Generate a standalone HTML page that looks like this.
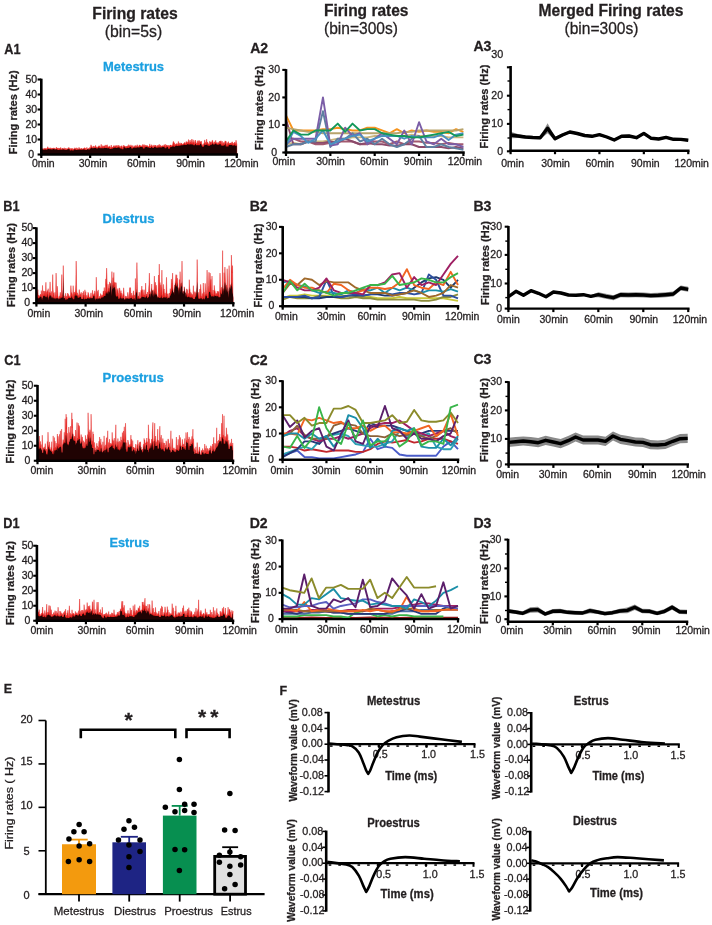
<!DOCTYPE html>
<html><head><meta charset="utf-8"><style>
html,body{margin:0;padding:0;background:#fff;overflow:hidden;}
svg{display:block;will-change:transform;font-family:"Liberation Sans",sans-serif;}
text{stroke-width:0.28px;}
</style></head><body>
<svg width="712" height="925" viewBox="0 0 712 925" fill="#231f20">
<text x="92.30" y="18.60" font-size="16.30" font-weight="bold" textLength="85.50" lengthAdjust="spacingAndGlyphs" stroke="#231f20">Firing rates</text>
<text x="104.70" y="36.60" font-size="16.30" textLength="57.50" lengthAdjust="spacingAndGlyphs" stroke="#231f20">(bin=5s)</text>
<text x="324.00" y="15.60" font-size="16.30" font-weight="bold" textLength="84.50" lengthAdjust="spacingAndGlyphs" stroke="#231f20">Firing rates</text>
<text x="324.00" y="33.60" font-size="16.30" textLength="74.00" lengthAdjust="spacingAndGlyphs" stroke="#231f20">(bin=300s)</text>
<text x="538.50" y="15.60" font-size="16.30" font-weight="bold" textLength="145.00" lengthAdjust="spacingAndGlyphs" stroke="#231f20">Merged Firing rates</text>
<text x="564.50" y="33.60" font-size="16.30" textLength="74.00" lengthAdjust="spacingAndGlyphs" stroke="#231f20">(bin=300s)</text>
<text x="4.20" y="54.00" font-size="14.50" font-weight="bold" textLength="16.30" lengthAdjust="spacingAndGlyphs" stroke="#231f20">A1</text>
<text x="3.20" y="210.50" font-size="14.50" font-weight="bold" textLength="16.30" lengthAdjust="spacingAndGlyphs" stroke="#231f20">B1</text>
<text x="4.20" y="364.50" font-size="14.50" font-weight="bold" textLength="16.30" lengthAdjust="spacingAndGlyphs" stroke="#231f20">C1</text>
<text x="3.20" y="528.00" font-size="14.50" font-weight="bold" textLength="16.30" lengthAdjust="spacingAndGlyphs" stroke="#231f20">D1</text>
<text x="250.20" y="53.00" font-size="14.50" font-weight="bold" textLength="18.00" lengthAdjust="spacingAndGlyphs" stroke="#231f20">A2</text>
<text x="249.70" y="210.50" font-size="14.50" font-weight="bold" textLength="18.00" lengthAdjust="spacingAndGlyphs" stroke="#231f20">B2</text>
<text x="249.70" y="364.50" font-size="14.50" font-weight="bold" textLength="18.00" lengthAdjust="spacingAndGlyphs" stroke="#231f20">C2</text>
<text x="249.70" y="527.50" font-size="14.50" font-weight="bold" textLength="18.00" lengthAdjust="spacingAndGlyphs" stroke="#231f20">D2</text>
<text x="473.45" y="51.25" font-size="14.50" font-weight="bold" textLength="18.00" lengthAdjust="spacingAndGlyphs" stroke="#231f20">A3</text>
<text x="473.45" y="210.50" font-size="14.50" font-weight="bold" textLength="18.00" lengthAdjust="spacingAndGlyphs" stroke="#231f20">B3</text>
<text x="473.45" y="363.75" font-size="14.50" font-weight="bold" textLength="18.00" lengthAdjust="spacingAndGlyphs" stroke="#231f20">C3</text>
<text x="473.45" y="528.00" font-size="14.50" font-weight="bold" textLength="18.00" lengthAdjust="spacingAndGlyphs" stroke="#231f20">D3</text>
<polygon points="41.3,154.5 41.3,147.6 41.7,147.5 42.1,148.5 42.4,149.0 42.8,149.2 43.2,148.5 43.6,149.1 43.9,149.4 44.3,148.4 44.7,148.4 45.1,148.1 45.4,149.1 45.8,148.5 46.2,148.6 46.6,149.4 46.9,148.2 47.3,148.3 47.7,146.7 48.1,148.4 48.5,148.6 48.8,147.7 49.2,148.4 49.6,147.9 50.0,148.8 50.3,148.4 50.7,147.8 51.1,148.1 51.5,148.4 51.8,149.2 52.2,148.2 52.6,148.5 53.0,148.0 53.4,148.4 53.7,147.8 54.1,148.6 54.5,148.4 54.9,148.1 55.2,149.2 55.6,148.8 56.0,148.9 56.4,147.1 56.7,148.6 57.1,148.1 57.5,148.1 57.9,148.7 58.2,149.5 58.6,147.9 59.0,148.8 59.4,148.1 59.8,149.4 60.1,148.8 60.5,147.7 60.9,147.5 61.3,149.4 61.6,149.4 62.0,148.6 62.4,148.1 62.8,148.5 63.1,148.4 63.5,149.2 63.9,148.2 64.3,147.8 64.6,148.9 65.0,149.4 65.4,149.0 65.8,148.1 66.2,149.6 66.5,148.6 66.9,149.2 67.3,148.7 67.7,148.7 68.0,148.6 68.4,147.5 68.8,148.3 69.2,147.7 69.5,148.7 69.9,148.9 70.3,148.3 70.7,150.2 71.1,148.6 71.4,148.5 71.8,149.3 72.2,148.3 72.6,148.9 72.9,150.0 73.3,148.7 73.7,149.2 74.1,148.9 74.4,148.7 74.8,147.7 75.2,148.5 75.6,148.6 75.9,148.4 76.3,149.7 76.7,147.7 77.1,149.3 77.5,148.3 77.8,149.3 78.2,149.2 78.6,148.9 79.0,147.3 79.3,148.1 79.7,149.0 80.1,148.8 80.5,149.3 80.8,148.6 81.2,149.0 81.6,148.1 82.0,149.4 82.3,148.8 82.7,149.1 83.1,149.1 83.5,148.2 83.9,148.6 84.2,148.2 84.6,147.8 85.0,147.8 85.4,149.5 85.7,148.3 86.1,149.7 86.5,148.7 86.9,147.3 87.2,148.8 87.6,148.9 88.0,148.5 88.4,148.6 88.8,148.6 89.1,149.1 89.5,147.7 89.9,147.5 90.3,147.9 90.6,147.1 91.0,144.8 91.4,146.1 91.8,146.7 92.1,146.4 92.5,147.2 92.9,147.8 93.3,147.4 93.6,146.1 94.0,146.1 94.4,146.8 94.8,147.4 95.2,146.7 95.5,145.4 95.9,145.7 96.3,147.5 96.7,147.0 97.0,148.0 97.4,147.8 97.8,146.8 98.2,146.9 98.5,146.1 98.9,145.8 99.3,146.2 99.7,145.7 100.0,147.3 100.4,147.8 100.8,146.4 101.2,144.3 101.6,146.6 101.9,147.8 102.3,146.7 102.7,145.6 103.1,147.7 103.4,146.1 103.8,147.3 104.2,145.7 104.6,146.1 104.9,146.6 105.3,144.9 105.7,147.2 106.1,147.4 106.4,145.1 106.8,147.5 107.2,144.7 107.6,146.8 108.0,147.6 108.3,146.8 108.7,146.7 109.1,146.6 109.5,146.9 109.8,145.8 110.2,148.5 110.6,147.2 111.0,147.0 111.3,145.0 111.7,148.3 112.1,147.0 112.5,147.6 112.9,147.3 113.2,146.2 113.6,146.4 114.0,145.4 114.4,147.2 114.7,146.5 115.1,145.6 115.5,145.9 115.9,147.0 116.2,145.7 116.6,147.4 117.0,145.0 117.4,146.5 117.7,146.8 118.1,146.4 118.5,145.9 118.9,145.0 119.3,146.8 119.6,147.0 120.0,146.1 120.4,147.4 120.8,148.0 121.1,145.9 121.5,146.9 121.9,145.6 122.3,147.5 122.6,148.8 123.0,146.4 123.4,146.5 123.8,145.1 124.1,146.1 124.5,146.3 124.9,146.0 125.3,146.9 125.7,146.5 126.0,147.7 126.4,146.1 126.8,147.2 127.2,146.9 127.5,145.9 127.9,145.7 128.3,147.4 128.7,144.6 129.0,147.0 129.4,145.8 129.8,145.6 130.2,146.3 130.6,146.4 130.9,144.8 131.3,145.7 131.7,146.1 132.1,147.9 132.4,147.1 132.8,145.4 133.2,146.3 133.6,147.3 133.9,147.0 134.3,146.7 134.7,145.8 135.1,146.1 135.4,145.5 135.8,147.1 136.2,145.5 136.6,146.9 137.0,146.7 137.3,144.7 137.7,146.4 138.1,146.5 138.5,146.6 138.8,146.7 139.2,144.9 139.6,145.1 140.0,145.7 140.3,146.2 140.7,145.4 141.1,146.4 141.5,145.9 141.8,146.0 142.2,146.3 142.6,144.7 143.0,144.6 143.4,145.0 143.7,147.9 144.1,144.5 144.5,145.6 144.9,146.7 145.2,146.3 145.6,145.2 146.0,145.1 146.4,145.5 146.7,146.1 147.1,146.2 147.5,145.5 147.9,146.3 148.3,147.0 148.6,146.8 149.0,146.3 149.4,145.9 149.8,143.9 150.1,147.4 150.5,145.7 150.9,146.3 151.3,145.9 151.6,144.8 152.0,144.9 152.4,146.3 152.8,146.6 153.1,147.3 153.5,146.2 153.9,144.9 154.3,146.4 154.7,145.4 155.0,145.4 155.4,145.7 155.8,145.0 156.2,146.2 156.5,146.8 156.9,147.1 157.3,145.2 157.7,146.4 158.0,146.3 158.4,145.2 158.8,146.7 159.2,144.2 159.5,145.4 159.9,146.5 160.3,146.6 160.7,144.9 161.1,147.0 161.4,146.6 161.8,146.0 162.2,145.8 162.6,146.0 162.9,145.6 163.3,146.3 163.7,146.1 164.1,144.7 164.4,145.3 164.8,146.3 165.2,144.1 165.6,147.6 166.0,145.8 166.3,145.2 166.7,144.9 167.1,145.8 167.5,146.2 167.8,145.3 168.2,146.0 168.6,145.4 169.0,148.2 169.3,145.5 169.7,146.6 170.1,144.9 170.5,145.1 170.8,145.1 171.2,146.2 171.6,145.4 172.0,145.7 172.4,144.7 172.7,144.7 173.1,141.8 173.5,141.4 173.9,143.1 174.2,146.1 174.6,142.8 175.0,145.4 175.4,144.2 175.7,144.5 176.1,144.5 176.5,143.5 176.9,144.2 177.2,145.4 177.6,143.8 178.0,143.3 178.4,141.4 178.8,144.2 179.1,145.0 179.5,144.1 179.9,142.8 180.3,144.6 180.6,144.4 181.0,142.9 181.4,143.6 181.8,143.3 182.1,144.3 182.5,144.5 182.9,143.9 183.3,143.7 183.7,143.9 184.0,142.9 184.4,142.7 184.8,142.6 185.2,142.5 185.5,144.0 185.9,144.1 186.3,141.4 186.7,142.3 187.0,141.9 187.4,143.4 187.8,141.9 188.2,142.5 188.5,139.5 188.9,142.5 189.3,143.6 189.7,141.6 190.1,140.0 190.4,142.7 190.8,141.7 191.2,143.3 191.6,140.9 191.9,139.0 192.3,143.5 192.7,142.2 193.1,139.8 193.4,141.5 193.8,141.9 194.2,144.5 194.6,142.3 194.9,140.8 195.3,140.0 195.7,141.2 196.1,142.9 196.5,143.1 196.8,144.4 197.2,143.6 197.6,140.7 198.0,142.4 198.3,144.0 198.7,140.5 199.1,144.4 199.5,140.6 199.8,142.8 200.2,142.0 200.6,141.5 201.0,142.2 201.4,141.2 201.7,143.4 202.1,144.2 202.5,144.9 202.9,146.1 203.2,145.8 203.6,143.8 204.0,143.6 204.4,142.4 204.7,139.9 205.1,142.3 205.5,142.2 205.9,144.1 206.2,142.8 206.6,139.2 207.0,141.8 207.4,142.7 207.8,142.1 208.1,144.8 208.5,143.6 208.9,144.2 209.3,145.1 209.6,141.5 210.0,141.2 210.4,142.8 210.8,142.1 211.1,143.9 211.5,142.0 211.9,141.6 212.3,140.2 212.6,140.4 213.0,142.0 213.4,142.8 213.8,143.7 214.2,143.4 214.5,141.8 214.9,141.9 215.3,142.7 215.7,140.3 216.0,141.8 216.4,142.7 216.8,143.0 217.2,142.6 217.5,143.9 217.9,143.9 218.3,142.3 218.7,143.5 219.1,143.1 219.4,141.1 219.8,143.0 220.2,141.0 220.6,142.8 220.9,140.7 221.3,142.2 221.7,144.9 222.1,141.1 222.4,143.1 222.8,145.1 223.2,142.7 223.6,142.6 223.9,144.4 224.3,143.6 224.7,142.1 225.1,140.9 225.5,141.3 225.8,141.2 226.2,141.4 226.6,145.7 227.0,143.8 227.3,142.7 227.7,145.9 228.1,141.9 228.5,141.7 228.8,143.9 229.2,143.4 229.6,144.1 230.0,143.0 230.3,143.0 230.7,143.0 231.1,144.2 231.5,142.5 231.9,143.4 232.2,141.7 232.6,142.6 233.0,144.8 233.4,144.7 233.7,143.0 234.1,143.6 234.5,142.4 234.9,142.0 235.2,143.0 235.6,145.0 236.0,140.2 236.4,142.4 236.8,144.3 236.8,154.5" fill="#e4201c" stroke="#e4201c" stroke-width="0.45" stroke-linejoin="bevel"/>
<polygon points="41.3,154.5 41.3,148.9 41.7,149.4 42.1,149.6 42.4,149.6 42.8,149.6 43.2,149.8 43.6,149.8 43.9,149.8 44.3,149.8 44.7,149.8 45.1,149.5 45.4,149.5 45.8,149.8 46.2,149.8 46.6,149.8 46.9,149.8 47.3,149.8 47.7,149.1 48.1,149.1 48.5,149.1 48.8,149.1 49.2,149.2 49.6,149.2 50.0,149.2 50.3,149.2 50.7,149.2 51.1,149.6 51.5,149.6 51.8,149.6 52.2,149.6 52.6,149.6 53.0,149.0 53.4,149.0 53.7,149.0 54.1,149.0 54.5,149.6 54.9,149.6 55.2,149.6 55.6,149.6 56.0,149.6 56.4,149.3 56.7,149.3 57.1,149.2 57.5,149.9 57.9,149.9 58.2,149.9 58.6,149.9 59.0,149.9 59.4,149.8 59.8,149.8 60.1,149.8 60.5,149.8 60.9,149.8 61.3,149.8 61.6,149.8 62.0,149.8 62.4,149.8 62.8,149.6 63.1,149.6 63.5,149.6 63.9,149.6 64.3,149.8 64.6,149.8 65.0,149.8 65.4,150.0 65.8,150.0 66.2,150.0 66.5,150.0 66.9,150.0 67.3,149.6 67.7,149.6 68.0,149.2 68.4,149.2 68.8,149.1 69.2,149.3 69.5,149.3 69.9,150.5 70.3,150.5 70.7,150.5 71.1,150.5 71.4,150.5 71.8,149.8 72.2,150.4 72.6,150.4 72.9,150.4 73.3,150.4 73.7,150.4 74.1,149.6 74.4,149.6 74.8,149.4 75.2,149.2 75.6,150.1 75.9,150.1 76.3,150.1 76.7,150.1 77.1,150.1 77.5,149.7 77.8,149.7 78.2,149.7 78.6,149.7 79.0,149.6 79.3,149.4 79.7,149.7 80.1,149.7 80.5,149.7 80.8,149.7 81.2,149.8 81.6,149.8 82.0,149.8 82.3,149.8 82.7,149.8 83.1,149.6 83.5,149.6 83.9,149.5 84.2,149.0 84.6,149.9 85.0,149.9 85.4,150.1 85.7,150.1 86.1,150.1 86.5,150.1 86.9,150.1 87.2,149.3 87.6,149.3 88.0,149.3 88.4,149.5 88.8,149.5 89.1,149.5 89.5,149.5 89.9,149.5 90.3,148.4 90.6,148.4 91.0,148.4 91.4,147.7 91.8,147.8 92.1,148.3 92.5,148.3 92.9,148.3 93.3,148.3 93.6,148.3 94.0,148.0 94.4,148.0 94.8,148.0 95.2,148.0 95.5,148.0 95.9,148.0 96.3,148.6 96.7,148.6 97.0,148.6 97.4,148.6 97.8,148.6 98.2,148.3 98.5,147.5 98.9,147.5 99.3,147.9 99.7,148.3 100.0,148.3 100.4,148.3 100.8,148.3 101.2,148.3 101.6,148.3 101.9,148.3 102.3,148.3 102.7,148.3 103.1,148.2 103.4,148.2 103.8,148.2 104.2,147.9 104.6,147.9 104.9,147.7 105.3,147.9 105.7,147.9 106.1,148.1 106.4,148.1 106.8,148.1 107.2,148.2 107.6,148.2 108.0,148.2 108.3,148.2 108.7,148.2 109.1,147.5 109.5,149.0 109.8,149.0 110.2,149.0 110.6,149.0 111.0,149.0 111.3,148.8 111.7,148.8 112.1,148.8 112.5,148.8 112.9,148.2 113.2,148.2 113.6,147.9 114.0,147.8 114.4,147.8 114.7,147.8 115.1,147.8 115.5,147.6 115.9,148.0 116.2,148.0 116.6,148.0 117.0,148.0 117.4,148.0 117.7,147.4 118.1,147.4 118.5,147.4 118.9,147.6 119.3,147.6 119.6,147.9 120.0,148.5 120.4,148.5 120.8,148.5 121.1,148.5 121.5,148.5 121.9,149.2 122.3,149.2 122.6,149.2 123.0,149.2 123.4,149.2 123.8,147.1 124.1,147.1 124.5,147.5 124.9,147.5 125.3,148.2 125.7,148.2 126.0,148.2 126.4,148.2 126.8,148.2 127.2,147.8 127.5,147.9 127.9,147.9 128.3,147.9 128.7,147.9 129.0,147.9 129.4,147.6 129.8,147.6 130.2,147.0 130.6,147.0 130.9,147.0 131.3,148.5 131.7,148.5 132.1,148.5 132.4,148.5 132.8,148.5 133.2,147.8 133.6,147.8 133.9,147.8 134.3,147.8 134.7,147.6 135.1,147.7 135.4,147.7 135.8,147.7 136.2,147.7 136.6,147.7 137.0,147.5 137.3,147.5 137.7,147.3 138.1,147.4 138.5,147.4 138.8,147.4 139.2,147.4 139.6,147.4 140.0,146.9 140.3,147.1 140.7,147.1 141.1,147.1 141.5,147.1 141.8,147.1 142.2,146.9 142.6,146.9 143.0,148.4 143.4,148.4 143.7,148.4 144.1,148.4 144.5,148.4 144.9,147.3 145.2,147.3 145.6,147.3 146.0,147.0 146.4,146.9 146.7,146.9 147.1,147.0 147.5,147.6 147.9,147.6 148.3,147.6 148.6,147.6 149.0,147.6 149.4,147.9 149.8,147.9 150.1,147.9 150.5,147.9 150.9,147.9 151.3,146.9 151.6,147.0 152.0,147.3 152.4,147.9 152.8,147.9 153.1,147.9 153.5,147.9 153.9,147.9 154.3,147.0 154.7,147.0 155.0,147.0 155.4,146.9 155.8,147.4 156.2,147.7 156.5,147.7 156.9,147.7 157.3,147.7 157.7,147.7 158.0,147.4 158.4,147.4 158.8,147.4 159.2,147.4 159.5,147.4 159.9,147.2 160.3,147.6 160.7,147.6 161.1,147.6 161.4,147.6 161.8,147.6 162.2,147.2 162.6,146.9 162.9,146.9 163.3,146.9 163.7,146.9 164.1,147.0 164.4,147.0 164.8,148.2 165.2,148.2 165.6,148.2 166.0,148.2 166.3,148.2 166.7,146.9 167.1,146.9 167.5,146.9 167.8,146.9 168.2,148.7 168.6,148.7 169.0,148.7 169.3,148.7 169.7,148.7 170.1,147.2 170.5,147.2 170.8,146.9 171.2,146.9 171.6,146.9 172.0,146.9 172.4,146.4 172.7,146.4 173.1,145.5 173.5,146.8 173.9,146.8 174.2,146.8 174.6,146.8 175.0,146.8 175.4,146.1 175.7,146.1 176.1,145.3 176.5,146.1 176.9,146.1 177.2,146.1 177.6,146.1 178.0,146.1 178.4,145.8 178.8,145.8 179.1,145.8 179.5,145.8 179.9,145.8 180.3,145.4 180.6,145.4 181.0,145.4 181.4,145.2 181.8,145.3 182.1,145.3 182.5,145.3 182.9,145.3 183.3,145.3 183.7,144.7 184.0,144.7 184.4,144.7 184.8,144.8 185.2,144.9 185.5,144.9 185.9,144.9 186.3,144.9 186.7,144.9 187.0,144.3 187.4,144.3 187.8,144.3 188.2,144.3 188.5,144.5 188.9,144.5 189.3,144.5 189.7,144.5 190.1,144.5 190.4,144.2 190.8,144.2 191.2,144.2 191.6,144.4 191.9,144.4 192.3,144.4 192.7,144.4 193.1,144.4 193.4,145.3 193.8,145.3 194.2,145.3 194.6,145.3 194.9,145.3 195.3,143.9 195.7,144.0 196.1,145.2 196.5,145.2 196.8,145.2 197.2,145.2 197.6,145.2 198.0,144.8 198.3,145.2 198.7,145.2 199.1,145.2 199.5,145.2 199.8,145.2 200.2,143.8 200.6,143.8 201.0,144.3 201.4,145.0 201.7,145.7 202.1,146.8 202.5,146.8 202.9,146.8 203.2,146.8 203.6,146.8 204.0,146.5 204.4,144.7 204.7,144.4 205.1,144.9 205.5,144.9 205.9,144.9 206.2,144.9 206.6,144.9 207.0,143.8 207.4,145.6 207.8,145.6 208.1,145.6 208.5,145.8 208.9,145.8 209.3,145.8 209.6,145.8 210.0,145.8 210.4,144.7 210.8,144.7 211.1,144.7 211.5,144.7 211.9,144.7 212.3,143.0 212.6,143.7 213.0,144.5 213.4,144.5 213.8,144.5 214.2,144.5 214.5,144.5 214.9,144.3 215.3,143.6 215.7,143.6 216.0,143.9 216.4,143.9 216.8,144.7 217.2,144.8 217.5,144.8 217.9,144.8 218.3,144.8 218.7,144.8 219.1,144.4 219.4,144.4 219.8,144.0 220.2,143.9 220.6,143.9 220.9,145.6 221.3,145.6 221.7,145.6 222.1,145.8 222.4,145.8 222.8,145.8 223.2,145.8 223.6,145.8 223.9,145.2 224.3,145.2 224.7,145.2 225.1,144.5 225.5,143.1 225.8,146.4 226.2,146.4 226.6,146.4 227.0,146.6 227.3,146.6 227.7,146.6 228.1,146.6 228.5,146.6 228.8,144.9 229.2,144.9 229.6,144.9 230.0,144.9 230.3,145.0 230.7,145.0 231.1,145.0 231.5,145.0 231.9,145.0 232.2,145.5 232.6,145.5 233.0,145.5 233.4,145.5 233.7,145.5 234.1,145.5 234.5,144.5 234.9,145.8 235.2,145.8 235.6,145.8 236.0,145.8 236.4,145.8 236.8,145.2 236.8,154.5" fill="#200303"/>
<line x1="41.30" y1="78.70" x2="41.30" y2="155.50" stroke="#000" stroke-width="2.60"/>
<line x1="37.60" y1="154.50" x2="41.30" y2="154.50" stroke="#000" stroke-width="2.10"/>
<line x1="37.60" y1="139.50" x2="41.30" y2="139.50" stroke="#000" stroke-width="2.10"/>
<line x1="37.60" y1="124.50" x2="41.30" y2="124.50" stroke="#000" stroke-width="2.10"/>
<line x1="37.60" y1="109.50" x2="41.30" y2="109.50" stroke="#000" stroke-width="2.10"/>
<line x1="37.60" y1="94.50" x2="41.30" y2="94.50" stroke="#000" stroke-width="2.10"/>
<line x1="37.60" y1="79.50" x2="41.30" y2="79.50" stroke="#000" stroke-width="2.10"/>
<text x="31.30" y="157.70" font-size="10.00" text-anchor="middle" textLength="5.84" lengthAdjust="spacingAndGlyphs" stroke="#231f20">0</text>
<text x="31.30" y="142.70" font-size="10.00" text-anchor="middle" textLength="11.68" lengthAdjust="spacingAndGlyphs" stroke="#231f20">10</text>
<text x="31.30" y="127.70" font-size="10.00" text-anchor="middle" textLength="11.68" lengthAdjust="spacingAndGlyphs" stroke="#231f20">20</text>
<text x="31.30" y="112.70" font-size="10.00" text-anchor="middle" textLength="11.68" lengthAdjust="spacingAndGlyphs" stroke="#231f20">30</text>
<text x="31.30" y="97.70" font-size="10.00" text-anchor="middle" textLength="11.68" lengthAdjust="spacingAndGlyphs" stroke="#231f20">40</text>
<text x="31.30" y="82.70" font-size="10.00" text-anchor="middle" textLength="11.68" lengthAdjust="spacingAndGlyphs" stroke="#231f20">50</text>
<line x1="40.00" y1="154.50" x2="238.05" y2="154.50" stroke="#000" stroke-width="2.40"/>
<line x1="41.30" y1="154.50" x2="41.30" y2="158.00" stroke="#000" stroke-width="2.20"/>
<line x1="90.16" y1="154.50" x2="90.16" y2="158.00" stroke="#000" stroke-width="2.20"/>
<line x1="139.02" y1="154.50" x2="139.02" y2="158.00" stroke="#000" stroke-width="2.20"/>
<line x1="187.89" y1="154.50" x2="187.89" y2="158.00" stroke="#000" stroke-width="2.20"/>
<line x1="236.75" y1="154.50" x2="236.75" y2="158.00" stroke="#000" stroke-width="2.20"/>
<text x="31.90" y="167.25" font-size="10.00" textLength="22.76" lengthAdjust="spacingAndGlyphs" stroke="#231f20">0min</text>
<text x="78.75" y="167.25" font-size="10.00" textLength="28.60" lengthAdjust="spacingAndGlyphs" stroke="#231f20">30min</text>
<text x="127.00" y="167.25" font-size="10.00" textLength="28.60" lengthAdjust="spacingAndGlyphs" stroke="#231f20">60min</text>
<text x="176.25" y="167.25" font-size="10.00" textLength="28.60" lengthAdjust="spacingAndGlyphs" stroke="#231f20">90min</text>
<text x="224.25" y="167.25" font-size="10.00" textLength="34.44" lengthAdjust="spacingAndGlyphs" stroke="#231f20">120min</text>
<text transform="translate(17.40 112.30) rotate(-90)" font-size="11.00" font-weight="bold" text-anchor="middle" textLength="84.00" lengthAdjust="spacingAndGlyphs" stroke="#231f20">Firing rates (Hz)</text>
<text x="102.90" y="71.00" font-size="13.00" font-weight="bold" textLength="61.20" lengthAdjust="spacingAndGlyphs" fill="#1a9fe0" stroke="#1a9fe0">Metestrus</text>
<polygon points="36.4,303.1 36.4,279.1 36.8,296.2 37.2,292.2 37.5,293.2 37.9,289.7 38.3,297.8 38.7,295.0 39.1,295.9 39.4,296.8 39.8,296.1 40.2,294.9 40.6,294.0 41.0,296.0 41.3,290.6 41.7,294.7 42.1,300.3 42.5,285.4 42.8,294.0 43.2,295.2 43.6,290.9 44.0,291.0 44.4,291.8 44.7,295.3 45.1,291.0 45.5,297.2 45.9,282.3 46.3,296.4 46.6,292.6 47.0,291.5 47.4,290.4 47.8,292.6 48.2,288.7 48.5,300.5 48.9,292.3 49.3,292.5 49.7,293.7 50.1,281.9 50.4,295.8 50.8,292.7 51.2,298.6 51.6,291.4 52.0,297.9 52.3,297.9 52.7,274.6 53.1,289.9 53.5,293.5 53.8,292.9 54.2,298.0 54.6,297.2 55.0,292.3 55.4,299.5 55.7,293.4 56.1,273.1 56.5,294.3 56.9,298.0 57.3,286.2 57.6,291.0 58.0,296.9 58.4,299.7 58.8,297.8 59.2,296.1 59.5,298.5 59.9,295.1 60.3,292.3 60.7,296.2 61.1,297.2 61.4,293.2 61.8,274.6 62.2,292.9 62.6,296.9 63.0,289.0 63.3,265.6 63.7,298.6 64.1,295.7 64.5,297.7 64.8,298.3 65.2,296.4 65.6,293.3 66.0,300.3 66.4,296.1 66.7,296.4 67.1,296.4 67.5,293.1 67.9,299.0 68.3,293.7 68.6,296.6 69.0,295.6 69.4,296.6 69.8,296.9 70.2,297.4 70.5,294.6 70.9,285.6 71.3,291.9 71.7,292.8 72.1,294.0 72.4,297.3 72.8,293.8 73.2,285.7 73.6,298.9 73.9,292.9 74.3,292.0 74.7,295.0 75.1,293.0 75.5,290.1 75.8,284.5 76.2,261.1 76.6,288.4 77.0,294.7 77.4,292.8 77.7,295.3 78.1,294.9 78.5,297.1 78.9,293.4 79.3,289.6 79.6,296.3 80.0,295.0 80.4,293.6 80.8,295.7 81.2,292.2 81.5,294.9 81.9,298.6 82.3,298.4 82.7,293.1 83.1,293.5 83.4,291.3 83.8,294.9 84.2,295.1 84.6,299.3 84.9,289.8 85.3,298.1 85.7,291.6 86.1,298.5 86.5,297.5 86.8,295.2 87.2,296.9 87.6,297.6 88.0,292.3 88.4,293.2 88.7,294.3 89.1,296.7 89.5,297.9 89.9,297.0 90.3,297.2 90.6,295.8 91.0,292.8 91.4,296.2 91.8,297.8 92.2,297.4 92.5,290.3 92.9,295.1 93.3,294.9 93.7,294.7 94.1,293.5 94.4,295.2 94.8,290.8 95.2,292.6 95.6,300.8 95.9,296.1 96.3,277.2 96.7,298.8 97.1,295.2 97.5,291.3 97.8,295.6 98.2,289.9 98.6,298.7 99.0,298.7 99.4,296.2 99.7,297.6 100.1,298.3 100.5,293.6 100.9,294.7 101.3,295.6 101.6,296.8 102.0,294.7 102.4,295.3 102.8,296.6 103.2,291.2 103.5,291.1 103.9,291.8 104.3,287.5 104.7,295.3 105.1,290.8 105.4,292.2 105.8,278.9 106.2,285.6 106.6,268.1 106.9,274.8 107.3,290.4 107.7,293.5 108.1,284.2 108.5,289.2 108.8,288.2 109.2,292.7 109.6,281.9 110.0,285.0 110.4,283.0 110.7,283.5 111.1,291.1 111.5,296.2 111.9,271.6 112.3,289.6 112.6,289.3 113.0,277.7 113.4,287.2 113.8,272.5 114.2,285.9 114.5,282.3 114.9,284.3 115.3,282.5 115.7,295.0 116.1,282.7 116.4,290.5 116.8,295.7 117.2,289.7 117.6,292.2 117.9,288.4 118.3,292.6 118.7,294.4 119.1,299.3 119.5,287.9 119.8,289.1 120.2,292.7 120.6,294.0 121.0,290.6 121.4,297.9 121.7,293.0 122.1,295.5 122.5,298.2 122.9,294.3 123.3,294.4 123.6,287.8 124.0,292.0 124.4,299.3 124.8,299.8 125.2,295.8 125.5,296.2 125.9,298.0 126.3,299.0 126.7,296.2 127.0,298.5 127.4,297.5 127.8,292.3 128.2,294.8 128.6,297.6 128.9,298.4 129.3,296.2 129.7,287.6 130.1,297.0 130.5,287.6 130.8,297.7 131.2,296.2 131.6,293.1 132.0,297.7 132.4,295.4 132.7,298.9 133.1,293.2 133.5,290.8 133.9,297.3 134.3,294.9 134.6,296.6 135.0,300.0 135.4,278.5 135.8,292.9 136.2,292.0 136.5,293.8 136.9,262.6 137.3,281.5 137.7,299.4 138.0,296.0 138.4,296.3 138.8,295.6 139.2,292.1 139.6,297.0 139.9,298.4 140.3,297.9 140.7,292.8 141.1,290.3 141.5,291.0 141.8,286.0 142.2,296.0 142.6,289.6 143.0,291.1 143.4,294.6 143.7,296.4 144.1,289.7 144.5,296.1 144.9,294.8 145.3,296.8 145.6,283.1 146.0,293.6 146.4,295.1 146.8,294.0 147.2,293.7 147.5,292.0 147.9,297.7 148.3,296.2 148.7,288.8 149.0,284.4 149.4,273.1 149.8,290.1 150.2,293.1 150.6,298.1 150.9,291.5 151.3,294.6 151.7,284.0 152.1,291.1 152.5,290.4 152.8,296.2 153.2,289.7 153.6,297.6 154.0,289.7 154.4,276.1 154.7,296.0 155.1,286.3 155.5,282.3 155.9,292.7 156.3,285.2 156.6,291.7 157.0,294.3 157.4,298.5 157.8,296.4 158.2,297.5 158.5,275.0 158.9,291.7 159.3,264.1 159.7,297.4 160.0,282.5 160.4,297.0 160.8,284.8 161.2,287.8 161.6,293.2 161.9,270.1 162.3,293.8 162.7,297.7 163.1,290.9 163.5,284.4 163.8,289.8 164.2,289.1 164.6,296.4 165.0,292.9 165.4,297.3 165.7,295.7 166.1,290.9 166.5,277.3 166.9,293.8 167.3,294.0 167.6,299.0 168.0,293.4 168.4,297.0 168.8,298.1 169.2,298.3 169.5,293.1 169.9,294.5 170.3,288.7 170.7,292.6 171.0,290.9 171.4,279.1 171.8,284.0 172.2,283.3 172.6,273.1 172.9,286.5 173.3,293.0 173.7,292.1 174.1,295.0 174.5,284.9 174.8,289.7 175.2,283.3 175.6,280.2 176.0,274.6 176.4,285.4 176.7,274.9 177.1,285.8 177.5,278.2 177.9,287.5 178.3,291.7 178.6,287.5 179.0,295.3 179.4,279.5 179.8,288.9 180.1,271.7 180.5,292.4 180.9,284.3 181.3,282.9 181.7,287.3 182.0,261.1 182.4,291.1 182.8,292.9 183.2,294.4 183.6,291.0 183.9,292.4 184.3,286.8 184.7,290.8 185.1,292.5 185.5,293.1 185.8,297.2 186.2,292.3 186.6,288.8 187.0,296.6 187.4,293.4 187.7,289.5 188.1,295.9 188.5,293.4 188.9,296.1 189.3,279.7 189.6,288.2 190.0,289.5 190.4,296.9 190.8,292.2 191.1,295.4 191.5,293.5 191.9,296.6 192.3,294.3 192.7,297.1 193.0,293.8 193.4,285.7 193.8,298.5 194.2,298.4 194.6,292.9 194.9,291.5 195.3,296.1 195.7,292.5 196.1,293.1 196.5,292.5 196.8,287.9 197.2,259.6 197.6,291.8 198.0,293.7 198.4,296.6 198.7,292.3 199.1,298.0 199.5,298.4 199.9,289.0 200.3,297.5 200.6,284.4 201.0,288.7 201.4,295.6 201.8,296.5 202.1,299.3 202.5,293.5 202.9,298.1 203.3,283.0 203.7,298.0 204.0,292.2 204.4,299.7 204.8,293.7 205.2,283.4 205.6,293.7 205.9,295.0 206.3,293.6 206.7,289.2 207.1,270.1 207.5,292.4 207.8,298.2 208.2,289.7 208.6,285.5 209.0,272.2 209.4,290.8 209.7,290.9 210.1,273.1 210.5,287.7 210.9,279.4 211.3,295.9 211.6,291.8 212.0,276.1 212.4,295.1 212.8,293.3 213.1,290.0 213.5,295.8 213.9,294.1 214.3,285.4 214.7,291.3 215.0,290.8 215.4,292.7 215.8,295.3 216.2,293.4 216.6,293.4 216.9,295.6 217.3,291.1 217.7,295.2 218.1,291.3 218.5,294.8 218.8,291.6 219.2,296.7 219.6,296.2 220.0,273.1 220.4,287.2 220.7,290.2 221.1,290.8 221.5,287.3 221.9,294.0 222.3,288.7 222.6,250.6 223.0,296.1 223.4,288.5 223.8,291.8 224.1,272.7 224.5,291.2 224.9,267.1 225.3,278.0 225.7,286.7 226.0,293.8 226.4,284.9 226.8,291.2 227.2,268.8 227.6,292.7 227.9,291.1 228.3,298.0 228.7,290.8 229.1,265.6 229.5,287.5 229.8,292.2 230.2,284.5 230.6,288.6 231.0,286.9 231.4,255.1 231.7,264.7 232.1,273.1 232.5,265.6 232.9,294.3 233.2,297.9 233.2,303.1" fill="#e4201c" stroke="#e4201c" stroke-width="0.45" stroke-linejoin="bevel"/>
<polygon points="36.4,303.1 36.4,296.9 36.8,296.9 37.2,296.9 37.5,298.3 37.9,298.3 38.3,298.3 38.7,298.3 39.1,298.3 39.4,297.4 39.8,297.4 40.2,296.7 40.6,296.8 41.0,296.7 41.3,296.6 41.7,298.4 42.1,300.3 42.5,297.3 42.8,298.5 43.2,296.0 43.6,296.0 44.0,296.1 44.4,295.8 44.7,296.0 45.1,296.9 45.5,297.2 45.9,295.5 46.3,297.8 46.6,296.6 47.0,297.1 47.4,293.6 47.8,297.7 48.2,297.3 48.5,300.5 48.9,297.2 49.3,296.5 49.7,295.6 50.1,294.9 50.4,295.8 50.8,295.8 51.2,298.6 51.6,295.5 52.0,298.1 52.3,298.4 52.7,296.4 53.1,297.2 53.5,298.5 53.8,298.2 54.2,298.5 54.6,298.4 55.0,298.5 55.4,299.5 55.7,298.0 56.1,298.1 56.5,298.5 56.9,298.5 57.3,298.5 57.6,298.2 58.0,297.7 58.4,299.7 58.8,298.4 59.2,298.4 59.5,298.5 59.9,298.9 60.3,298.7 60.7,297.8 61.1,297.8 61.4,297.8 61.8,297.8 62.2,297.5 62.6,297.5 63.0,289.0 63.3,275.9 63.7,298.6 64.1,298.2 64.5,298.1 64.8,298.3 65.2,298.7 65.6,299.9 66.0,300.3 66.4,299.8 66.7,298.6 67.1,298.9 67.5,299.4 67.9,299.0 68.3,298.0 68.6,298.2 69.0,297.5 69.4,298.0 69.8,298.0 70.2,298.0 70.5,298.0 70.9,298.0 71.3,295.4 71.7,297.8 72.1,297.8 72.4,297.8 72.8,298.7 73.2,299.3 73.6,298.9 73.9,299.4 74.3,298.9 74.7,295.8 75.1,295.8 75.5,295.8 75.8,294.0 76.2,295.6 76.6,295.6 77.0,296.1 77.4,296.1 77.7,297.7 78.1,297.7 78.5,297.7 78.9,297.7 79.3,297.7 79.6,297.0 80.0,297.0 80.4,297.0 80.8,296.5 81.2,299.1 81.5,299.1 81.9,299.1 82.3,299.1 82.7,299.1 83.1,298.8 83.4,295.9 83.8,299.2 84.2,298.7 84.6,299.7 84.9,299.2 85.3,299.1 85.7,298.6 86.1,299.0 86.5,299.0 86.8,299.0 87.2,298.2 87.6,298.2 88.0,298.2 88.4,298.2 88.7,298.4 89.1,298.4 89.5,298.4 89.9,298.4 90.3,298.4 90.6,297.8 91.0,298.3 91.4,298.3 91.8,298.3 92.2,298.3 92.5,298.3 92.9,298.0 93.3,295.9 93.7,296.0 94.1,296.0 94.4,296.0 94.8,298.9 95.2,298.2 95.6,300.8 95.9,299.1 96.3,298.4 96.7,298.8 97.1,299.2 97.5,299.2 97.8,298.0 98.2,298.1 98.6,299.1 99.0,298.7 99.4,298.1 99.7,298.7 100.1,298.5 100.5,298.8 100.9,298.8 101.3,297.4 101.6,297.4 102.0,297.4 102.4,297.4 102.8,297.2 103.2,297.2 103.5,297.2 103.9,296.1 104.3,296.1 104.7,296.1 105.1,296.1 105.4,296.1 105.8,293.3 106.2,293.3 106.6,291.6 106.9,294.5 107.3,291.3 107.7,293.5 108.1,294.5 108.5,290.6 108.8,291.5 109.2,292.7 109.6,291.6 110.0,287.3 110.4,286.1 110.7,283.5 111.1,291.1 111.5,296.2 111.9,279.1 112.3,289.6 112.6,289.3 113.0,284.0 113.4,288.0 113.8,288.5 114.2,287.3 114.5,286.8 114.9,288.2 115.3,290.1 115.7,295.0 116.1,296.4 116.4,296.4 116.8,296.4 117.2,296.4 117.6,296.4 117.9,295.2 118.3,299.3 118.7,298.5 119.1,299.3 119.5,297.8 119.8,299.2 120.2,294.9 120.6,297.9 121.0,298.4 121.4,298.4 121.7,298.2 122.1,298.7 122.5,298.2 122.9,298.5 123.3,298.1 123.6,297.9 124.0,298.8 124.4,299.3 124.8,299.9 125.2,299.2 125.5,298.1 125.9,299.4 126.3,299.0 126.7,297.7 127.0,298.5 127.4,298.0 127.8,298.9 128.2,298.7 128.6,298.6 128.9,298.9 129.3,298.9 129.7,298.2 130.1,298.3 130.5,298.3 130.8,298.3 131.2,297.8 131.6,298.1 132.0,298.4 132.4,299.3 132.7,298.9 133.1,299.3 133.5,299.3 133.9,297.9 134.3,297.9 134.6,299.0 135.0,300.0 135.4,299.7 135.8,294.6 136.2,292.0 136.5,293.8 136.9,288.4 137.3,297.0 137.7,299.4 138.0,298.8 138.4,299.3 138.8,297.6 139.2,298.8 139.6,298.8 139.9,298.8 140.3,298.8 140.7,297.9 141.1,298.4 141.5,296.7 141.8,296.7 142.2,296.7 142.6,296.7 143.0,297.1 143.4,297.1 143.7,297.1 144.1,297.1 144.5,297.4 144.9,297.4 145.3,297.4 145.6,297.4 146.0,297.4 146.4,295.9 146.8,295.9 147.2,298.3 147.5,298.3 147.9,297.8 148.3,297.6 148.7,296.7 149.0,296.9 149.4,294.1 149.8,294.2 150.2,293.4 150.6,298.1 150.9,292.8 151.3,294.6 151.7,287.7 152.1,291.1 152.5,290.6 152.8,296.2 153.2,293.2 153.6,297.6 154.0,290.1 154.4,292.7 154.7,296.0 155.1,292.7 155.5,295.2 155.9,293.3 156.3,295.2 156.6,293.7 157.0,295.8 157.4,298.5 157.8,296.5 158.2,297.5 158.5,297.8 158.9,297.0 159.3,298.0 159.7,298.0 160.0,298.0 160.4,297.8 160.8,297.6 161.2,297.6 161.6,294.8 161.9,298.3 162.3,298.2 162.7,298.1 163.1,298.3 163.5,297.2 163.8,297.1 164.2,297.1 164.6,297.8 165.0,297.4 165.4,297.6 165.7,297.8 166.1,297.2 166.5,296.4 166.9,298.9 167.3,297.4 167.6,299.0 168.0,298.0 168.4,297.7 168.8,298.1 169.2,298.3 169.5,297.8 169.9,296.3 170.3,295.4 170.7,295.4 171.0,293.7 171.4,293.7 171.8,292.1 172.2,288.2 172.6,290.7 172.9,291.0 173.3,293.0 173.7,292.1 174.1,295.0 174.5,284.9 174.8,289.7 175.2,284.1 175.6,282.5 176.0,287.2 176.4,285.4 176.7,285.6 177.1,287.8 177.5,282.1 177.9,287.5 178.3,291.7 178.6,287.5 179.0,295.3 179.4,287.3 179.8,288.9 180.1,282.7 180.5,292.4 180.9,288.0 181.3,285.4 181.7,287.3 182.0,280.3 182.4,291.1 182.8,292.9 183.2,294.4 183.6,291.0 183.9,292.4 184.3,286.8 184.7,291.1 185.1,292.5 185.5,293.1 185.8,297.2 186.2,293.5 186.6,296.1 187.0,297.3 187.4,297.3 187.7,297.3 188.1,296.8 188.5,296.8 188.9,296.8 189.3,296.8 189.6,297.5 190.0,297.5 190.4,297.5 190.8,297.5 191.1,297.5 191.5,297.3 191.9,297.7 192.3,297.7 192.7,297.7 193.0,299.0 193.4,299.0 193.8,298.9 194.2,299.0 194.6,299.0 194.9,298.9 195.3,296.8 195.7,296.8 196.1,296.8 196.5,294.1 196.8,287.9 197.2,281.5 197.6,291.8 198.0,297.3 198.4,298.6 198.7,298.9 199.1,298.2 199.5,298.9 199.9,298.9 200.3,298.9 200.6,298.1 201.0,298.1 201.4,298.0 201.8,299.3 202.1,299.3 202.5,298.9 202.9,299.7 203.3,297.8 203.7,299.6 204.0,298.1 204.4,299.7 204.8,298.9 205.2,297.8 205.6,295.8 205.9,295.8 206.3,295.8 206.7,295.8 207.1,298.0 207.5,298.2 207.8,298.2 208.2,297.9 208.6,298.3 209.0,292.1 209.4,292.1 209.7,292.1 210.1,292.1 210.5,294.4 210.9,295.5 211.3,296.6 211.6,296.6 212.0,296.6 212.4,295.9 212.8,296.5 213.1,296.5 213.5,296.5 213.9,296.5 214.3,296.5 214.7,295.0 215.0,296.1 215.4,296.1 215.8,296.1 216.2,296.3 216.6,296.3 216.9,296.3 217.3,296.3 217.7,296.3 218.1,296.0 218.5,297.3 218.8,297.3 219.2,297.3 219.6,297.3 220.0,297.3 220.4,296.9 220.7,292.0 221.1,293.4 221.5,294.6 221.9,294.0 222.3,288.7 222.6,284.0 223.0,296.1 223.4,288.5 223.8,291.8 224.1,282.0 224.5,291.2 224.9,281.8 225.3,283.4 225.7,286.7 226.0,293.8 226.4,284.9 226.8,291.2 227.2,286.4 227.6,292.7 227.9,291.1 228.3,298.0 228.7,290.8 229.1,287.3 229.5,287.5 229.8,292.2 230.2,284.5 230.6,288.6 231.0,289.3 231.4,281.9 231.7,286.0 232.1,286.5 232.5,292.4 232.9,294.3 233.2,297.9 233.2,303.1" fill="#200303"/>
<line x1="36.40" y1="227.30" x2="36.40" y2="304.10" stroke="#000" stroke-width="2.60"/>
<line x1="32.70" y1="303.10" x2="36.40" y2="303.10" stroke="#000" stroke-width="2.10"/>
<line x1="32.70" y1="288.10" x2="36.40" y2="288.10" stroke="#000" stroke-width="2.10"/>
<line x1="32.70" y1="273.10" x2="36.40" y2="273.10" stroke="#000" stroke-width="2.10"/>
<line x1="32.70" y1="258.10" x2="36.40" y2="258.10" stroke="#000" stroke-width="2.10"/>
<line x1="32.70" y1="243.10" x2="36.40" y2="243.10" stroke="#000" stroke-width="2.10"/>
<line x1="32.70" y1="228.10" x2="36.40" y2="228.10" stroke="#000" stroke-width="2.10"/>
<text x="27.30" y="306.30" font-size="10.00" text-anchor="middle" textLength="5.84" lengthAdjust="spacingAndGlyphs" stroke="#231f20">0</text>
<text x="27.30" y="291.30" font-size="10.00" text-anchor="middle" textLength="11.68" lengthAdjust="spacingAndGlyphs" stroke="#231f20">10</text>
<text x="27.30" y="276.30" font-size="10.00" text-anchor="middle" textLength="11.68" lengthAdjust="spacingAndGlyphs" stroke="#231f20">20</text>
<text x="27.30" y="261.30" font-size="10.00" text-anchor="middle" textLength="11.68" lengthAdjust="spacingAndGlyphs" stroke="#231f20">30</text>
<text x="27.30" y="246.30" font-size="10.00" text-anchor="middle" textLength="11.68" lengthAdjust="spacingAndGlyphs" stroke="#231f20">40</text>
<text x="27.30" y="231.30" font-size="10.00" text-anchor="middle" textLength="11.68" lengthAdjust="spacingAndGlyphs" stroke="#231f20">50</text>
<line x1="35.10" y1="303.10" x2="234.55" y2="303.10" stroke="#000" stroke-width="2.40"/>
<line x1="36.40" y1="303.10" x2="36.40" y2="306.60" stroke="#000" stroke-width="2.20"/>
<line x1="85.61" y1="303.10" x2="85.61" y2="306.60" stroke="#000" stroke-width="2.20"/>
<line x1="134.82" y1="303.10" x2="134.82" y2="306.60" stroke="#000" stroke-width="2.20"/>
<line x1="184.04" y1="303.10" x2="184.04" y2="306.60" stroke="#000" stroke-width="2.20"/>
<line x1="233.25" y1="303.10" x2="233.25" y2="306.60" stroke="#000" stroke-width="2.20"/>
<text x="27.50" y="316.90" font-size="10.00" textLength="22.76" lengthAdjust="spacingAndGlyphs" stroke="#231f20">0min</text>
<text x="74.50" y="316.90" font-size="10.00" textLength="28.60" lengthAdjust="spacingAndGlyphs" stroke="#231f20">30min</text>
<text x="123.75" y="316.90" font-size="10.00" textLength="28.60" lengthAdjust="spacingAndGlyphs" stroke="#231f20">60min</text>
<text x="172.50" y="316.90" font-size="10.00" textLength="28.60" lengthAdjust="spacingAndGlyphs" stroke="#231f20">90min</text>
<text x="220.00" y="316.90" font-size="10.00" textLength="34.44" lengthAdjust="spacingAndGlyphs" stroke="#231f20">120min</text>
<text transform="translate(14.90 265.00) rotate(-90)" font-size="11.00" font-weight="bold" text-anchor="middle" textLength="84.00" lengthAdjust="spacingAndGlyphs" stroke="#231f20">Firing rates (Hz)</text>
<text x="102.50" y="222.50" font-size="13.00" font-weight="bold" textLength="52.00" lengthAdjust="spacingAndGlyphs" fill="#1a9fe0" stroke="#1a9fe0">Diestrus</text>
<polygon points="37.5,460.8 37.5,446.8 37.8,440.6 38.1,450.7 38.4,442.2 38.7,448.3 39.0,448.3 39.3,436.0 39.6,446.6 39.9,447.4 40.2,443.7 40.5,441.4 40.8,447.4 41.1,444.5 41.4,450.9 41.7,448.7 42.0,449.0 42.3,435.2 42.6,452.4 42.9,452.7 43.2,448.2 43.5,448.0 43.8,448.6 44.1,446.9 44.4,451.9 44.7,447.6 45.0,446.2 45.3,443.6 45.6,450.5 45.9,448.9 46.2,453.7 46.5,449.3 46.8,454.1 47.1,452.2 47.4,441.5 47.7,454.1 48.0,432.2 48.3,445.8 48.6,448.5 48.9,445.1 49.2,444.8 49.5,441.9 49.9,448.2 50.2,449.6 50.5,449.6 50.8,450.9 51.1,447.4 51.4,450.3 51.7,441.7 52.0,453.3 52.3,451.2 52.6,450.8 52.9,453.8 53.2,435.9 53.5,454.5 53.8,448.4 54.1,449.3 54.4,437.5 54.7,453.4 55.0,441.1 55.3,449.6 55.6,447.3 55.9,449.2 56.2,443.1 56.5,450.7 56.8,446.5 57.1,444.3 57.4,434.0 57.7,453.8 58.0,436.2 58.3,440.2 58.6,447.7 58.9,443.8 59.2,447.4 59.5,434.3 59.8,444.0 60.1,446.0 60.4,430.8 60.7,445.7 61.0,445.5 61.3,448.5 61.6,429.1 61.9,451.8 62.2,455.4 62.5,443.9 62.8,443.5 63.1,439.7 63.4,442.8 63.7,441.9 64.0,438.2 64.3,432.3 64.6,442.2 64.9,441.2 65.2,418.8 65.5,433.4 65.8,443.5 66.1,414.2 66.4,429.0 66.7,417.2 67.0,443.4 67.3,433.2 67.6,441.8 67.9,443.3 68.2,444.8 68.5,440.4 68.8,427.0 69.1,440.4 69.4,446.2 69.7,432.5 70.0,437.7 70.3,430.7 70.6,426.2 70.9,437.9 71.2,437.2 71.5,435.9 71.8,412.8 72.1,428.2 72.4,419.1 72.7,431.8 73.0,434.8 73.3,434.5 73.6,438.7 73.9,438.9 74.3,436.0 74.6,439.4 74.9,436.6 75.2,444.0 75.5,430.0 75.8,432.9 76.1,441.9 76.4,447.8 76.7,433.8 77.0,422.5 77.3,439.6 77.6,438.0 77.9,438.7 78.2,423.2 78.5,441.3 78.8,425.1 79.1,437.3 79.4,426.2 79.7,434.9 80.0,437.4 80.3,445.7 80.6,442.1 80.9,440.3 81.2,434.5 81.5,438.8 81.8,445.3 82.1,439.8 82.4,436.9 82.7,445.1 83.0,447.4 83.3,447.4 83.6,440.7 83.9,442.1 84.2,448.9 84.5,442.4 84.8,446.6 85.1,447.5 85.4,435.3 85.7,438.2 86.0,446.8 86.3,442.4 86.6,438.9 86.9,444.9 87.2,441.2 87.5,434.6 87.8,448.4 88.1,412.8 88.4,430.8 88.7,432.0 89.0,444.3 89.3,431.8 89.6,440.3 89.9,429.7 90.2,430.9 90.5,435.7 90.8,443.5 91.1,414.2 91.4,435.0 91.7,447.0 92.0,440.7 92.3,442.1 92.6,447.4 92.9,431.7 93.2,447.0 93.5,434.0 93.8,453.7 94.1,454.2 94.4,442.4 94.7,444.4 95.0,448.7 95.3,447.7 95.6,453.5 95.9,449.9 96.2,451.2 96.5,448.4 96.8,443.2 97.1,447.4 97.4,445.9 97.7,450.3 98.0,449.3 98.3,447.2 98.7,448.8 99.0,441.2 99.3,450.9 99.6,437.0 99.9,451.3 100.2,442.6 100.5,450.7 100.8,438.9 101.1,447.3 101.4,446.2 101.7,444.5 102.0,450.3 102.3,451.6 102.6,454.1 102.9,441.8 103.2,450.4 103.5,450.0 103.8,447.8 104.1,435.9 104.4,453.1 104.7,446.3 105.0,449.0 105.3,444.8 105.6,453.1 105.9,448.7 106.2,442.8 106.5,438.0 106.8,437.6 107.1,450.1 107.4,446.4 107.7,430.8 108.0,451.6 108.3,451.7 108.6,442.4 108.9,445.1 109.2,446.8 109.5,439.2 109.8,450.1 110.1,443.2 110.4,445.8 110.7,446.1 111.0,443.2 111.3,444.8 111.6,444.3 111.9,444.2 112.2,432.4 112.5,446.9 112.8,439.5 113.1,442.0 113.4,446.9 113.7,440.7 114.0,448.9 114.3,438.1 114.6,448.6 114.9,447.3 115.2,443.2 115.5,440.0 115.8,424.8 116.1,439.5 116.4,445.7 116.7,448.9 117.0,441.5 117.3,442.9 117.6,448.8 117.9,438.5 118.2,443.3 118.5,448.7 118.8,441.8 119.1,449.8 119.4,447.8 119.7,440.9 120.0,449.9 120.3,442.3 120.6,448.7 120.9,436.8 121.2,445.5 121.5,439.9 121.8,448.4 122.1,442.5 122.4,432.6 122.7,436.3 123.1,448.8 123.4,431.3 123.7,431.1 124.0,441.0 124.3,426.8 124.6,445.9 124.9,441.1 125.2,432.9 125.5,423.2 125.8,433.5 126.1,448.5 126.4,451.3 126.7,442.6 127.0,451.1 127.3,446.4 127.6,450.9 127.9,440.0 128.2,441.7 128.5,443.3 128.8,446.1 129.1,446.1 129.4,447.7 129.7,444.6 130.0,445.4 130.3,444.4 130.6,448.5 130.9,435.1 131.2,445.6 131.5,439.2 131.8,439.8 132.1,450.5 132.4,452.9 132.7,440.6 133.0,448.9 133.3,447.1 133.6,448.6 133.9,447.1 134.2,451.8 134.5,448.2 134.8,449.7 135.1,448.0 135.4,454.7 135.7,444.1 136.0,446.4 136.3,453.3 136.6,450.5 136.9,447.6 137.2,444.7 137.5,447.6 137.8,440.2 138.1,447.4 138.4,451.1 138.7,450.0 139.0,443.7 139.3,449.7 139.6,443.0 139.9,441.9 140.2,444.3 140.5,441.8 140.8,447.7 141.1,447.0 141.4,449.3 141.7,449.3 142.0,452.3 142.3,449.0 142.6,450.7 142.9,451.8 143.2,445.8 143.5,444.2 143.8,447.9 144.1,438.4 144.4,441.1 144.7,440.3 145.0,448.6 145.3,451.6 145.6,443.0 145.9,444.2 146.2,441.8 146.5,443.5 146.8,438.0 147.1,446.8 147.4,441.7 147.8,449.1 148.1,453.3 148.4,424.8 148.7,435.4 149.0,451.5 149.3,438.8 149.6,447.9 149.9,446.6 150.2,444.4 150.5,443.4 150.8,448.8 151.1,443.7 151.4,441.8 151.7,439.0 152.0,447.5 152.3,432.5 152.6,428.6 152.9,422.4 153.2,449.0 153.5,441.4 153.8,450.5 154.1,439.5 154.4,437.9 154.7,423.2 155.0,448.9 155.3,439.6 155.6,436.0 155.9,444.8 156.2,441.6 156.5,451.4 156.8,444.4 157.1,439.8 157.4,440.3 157.7,429.1 158.0,447.8 158.3,451.9 158.6,440.3 158.9,446.5 159.2,442.4 159.5,440.2 159.8,426.2 160.1,436.4 160.4,437.8 160.7,452.3 161.0,447.1 161.3,435.1 161.6,448.9 161.9,442.4 162.2,447.5 162.5,449.0 162.8,438.5 163.1,442.0 163.4,448.4 163.7,442.9 164.0,452.0 164.3,450.2 164.6,443.0 164.9,447.3 165.2,451.3 165.5,445.4 165.8,446.0 166.1,440.8 166.4,442.8 166.7,448.6 167.0,449.4 167.3,448.1 167.6,448.5 167.9,439.7 168.2,438.9 168.5,440.5 168.8,445.9 169.1,448.6 169.4,443.3 169.7,449.1 170.0,446.7 170.3,453.1 170.6,449.4 170.9,430.8 171.2,451.4 171.5,452.7 171.8,448.5 172.2,438.7 172.5,440.2 172.8,449.2 173.1,449.7 173.4,448.3 173.7,451.2 174.0,447.7 174.3,449.1 174.6,452.8 174.9,450.1 175.2,449.0 175.5,451.0 175.8,451.8 176.1,443.7 176.4,437.0 176.7,448.8 177.0,449.2 177.3,445.1 177.6,448.2 177.9,450.1 178.2,439.3 178.5,450.8 178.8,449.6 179.1,449.3 179.4,435.2 179.7,447.4 180.0,443.2 180.3,437.4 180.6,442.4 180.9,445.6 181.2,450.6 181.5,445.8 181.8,449.3 182.1,445.7 182.4,439.3 182.7,443.8 183.0,445.8 183.3,448.1 183.6,444.6 183.9,443.8 184.2,448.5 184.5,446.6 184.8,438.5 185.1,450.8 185.4,446.0 185.7,449.0 186.0,432.5 186.3,439.7 186.6,440.2 186.9,440.9 187.2,441.4 187.5,432.2 187.8,450.0 188.1,441.2 188.4,438.9 188.7,449.2 189.0,436.9 189.3,438.0 189.6,449.4 189.9,444.7 190.2,443.8 190.5,444.8 190.8,439.3 191.1,448.1 191.4,442.9 191.7,440.0 192.0,436.3 192.3,441.1 192.6,443.6 192.9,429.2 193.2,451.7 193.5,438.8 193.8,446.7 194.1,450.9 194.4,448.5 194.7,453.4 195.0,454.3 195.3,450.2 195.6,452.0 195.9,446.8 196.2,452.5 196.6,453.6 196.9,452.9 197.2,442.6 197.5,450.3 197.8,452.3 198.1,453.4 198.4,453.8 198.7,451.4 199.0,449.7 199.3,447.0 199.6,447.2 199.9,450.7 200.2,453.4 200.5,453.9 200.8,456.4 201.1,454.2 201.4,450.4 201.7,452.6 202.0,450.5 202.3,454.8 202.6,448.5 202.9,450.6 203.2,451.4 203.5,450.2 203.8,456.2 204.1,452.9 204.4,453.7 204.7,444.0 205.0,451.9 205.3,452.7 205.6,448.3 205.9,454.0 206.2,445.7 206.5,453.1 206.8,451.3 207.1,453.6 207.4,448.3 207.7,455.9 208.0,448.7 208.3,453.3 208.6,450.8 208.9,453.9 209.2,449.9 209.5,449.8 209.8,448.1 210.1,449.0 210.4,447.6 210.7,445.7 211.0,450.9 211.3,453.0 211.6,453.2 211.9,446.3 212.2,450.3 212.5,444.0 212.8,448.5 213.1,451.9 213.4,444.1 213.7,437.3 214.0,448.7 214.3,451.2 214.6,450.8 214.9,443.1 215.2,449.6 215.5,448.8 215.8,443.6 216.1,446.8 216.4,446.1 216.7,427.8 217.0,448.7 217.3,444.6 217.6,444.1 217.9,441.0 218.2,446.4 218.5,441.4 218.8,440.0 219.1,441.9 219.4,438.1 219.7,434.0 220.0,439.6 220.3,439.8 220.6,445.4 221.0,437.0 221.3,439.5 221.6,423.2 221.9,443.5 222.2,433.7 222.5,414.2 222.8,434.9 223.1,437.6 223.4,434.9 223.7,442.1 224.0,415.8 224.3,442.5 224.6,442.4 224.9,436.5 225.2,436.5 225.5,439.0 225.8,443.3 226.1,436.3 226.4,427.8 226.7,432.4 227.0,441.4 227.3,439.7 227.6,434.4 227.9,436.9 228.2,447.9 228.5,443.4 228.8,440.2 229.1,448.2 229.4,452.8 229.7,444.5 230.0,444.8 230.3,442.7 230.6,445.0 230.9,445.2 231.2,445.1 231.5,438.9 231.8,444.8 232.1,445.0 232.4,449.4 232.7,443.0 233.0,449.4 233.0,460.8" fill="#e4201c" stroke="#e4201c" stroke-width="0.45" stroke-linejoin="bevel"/>
<polygon points="37.5,460.8 37.5,447.8 37.8,447.8 38.1,449.2 38.4,449.2 38.7,449.2 39.0,449.2 39.3,449.2 39.6,448.4 39.9,447.5 40.2,448.3 40.5,448.3 40.8,448.3 41.1,449.6 41.4,449.8 41.7,449.8 42.0,451.6 42.3,453.0 42.6,453.0 42.9,453.0 43.2,453.0 43.5,449.4 43.8,449.4 44.1,449.4 44.4,449.4 44.7,448.5 45.0,451.2 45.3,449.7 45.6,451.2 45.9,451.2 46.2,454.2 46.5,454.2 46.8,454.2 47.1,454.5 47.4,454.5 47.7,452.8 48.0,449.4 48.3,449.4 48.6,446.8 48.9,446.8 49.2,449.1 49.5,449.1 49.9,450.4 50.2,450.4 50.5,450.4 50.8,451.0 51.1,451.0 51.4,451.6 51.7,451.9 52.0,451.9 52.3,453.8 52.6,453.8 52.9,454.3 53.2,454.3 53.5,454.3 53.8,450.1 54.1,453.9 54.4,450.1 54.7,450.4 55.0,450.4 55.3,450.4 55.6,450.0 55.9,450.4 56.2,450.0 56.5,450.0 56.8,447.5 57.1,451.4 57.4,447.5 57.7,445.4 58.0,448.6 58.3,448.6 58.6,448.3 58.9,448.3 59.2,448.3 59.5,447.0 59.8,447.0 60.1,446.8 60.4,446.8 60.7,447.0 61.0,446.8 61.3,449.3 61.6,452.4 61.9,452.4 62.2,452.4 62.5,452.4 62.8,445.1 63.1,444.7 63.4,444.0 63.7,443.2 64.0,443.5 64.3,443.2 64.6,442.6 64.9,442.6 65.2,443.5 65.5,442.6 65.8,435.3 66.1,435.3 66.4,444.6 66.7,435.1 67.0,443.1 67.3,444.5 67.6,444.6 67.9,444.5 68.2,444.5 68.5,444.5 68.8,445.9 69.1,441.8 69.4,441.8 69.7,441.8 70.0,439.3 70.3,439.3 70.6,439.3 70.9,438.9 71.2,438.9 71.5,438.9 71.8,437.7 72.1,433.8 72.4,433.8 72.7,436.4 73.0,436.7 73.3,440.2 73.6,440.2 73.9,440.5 74.3,440.5 74.6,440.9 74.9,440.9 75.2,440.9 75.5,443.2 75.8,445.2 76.1,443.2 76.4,443.2 76.7,443.2 77.0,441.1 77.3,440.3 77.6,440.3 77.9,441.1 78.2,440.3 78.5,440.3 78.8,438.9 79.1,438.9 79.4,438.9 79.7,439.0 80.0,443.4 80.3,443.4 80.6,443.4 80.9,443.4 81.2,443.4 81.5,441.7 81.8,441.3 82.1,446.2 82.4,446.4 82.7,448.3 83.0,448.3 83.3,448.3 83.6,448.3 83.9,448.3 84.2,447.6 84.5,448.4 84.8,448.4 85.1,447.6 85.4,447.7 85.7,447.7 86.0,443.6 86.3,446.0 86.6,446.0 86.9,443.6 87.2,446.0 87.5,446.0 87.8,442.6 88.1,436.4 88.4,445.4 88.7,434.0 89.0,441.7 89.3,441.7 89.6,441.7 89.9,437.5 90.2,441.7 90.5,437.5 90.8,437.5 91.1,444.7 91.4,444.7 91.7,443.4 92.0,448.0 92.3,448.0 92.6,447.9 92.9,447.9 93.2,448.3 93.5,454.2 93.8,454.2 94.1,454.2 94.4,454.2 94.7,449.5 95.0,449.5 95.3,450.7 95.6,451.9 95.9,451.9 96.2,451.9 96.5,450.7 96.8,449.3 97.1,449.3 97.4,450.1 97.7,450.1 98.0,450.1 98.3,450.1 98.7,450.1 99.0,449.7 99.3,451.6 99.6,451.6 99.9,451.6 100.2,451.4 100.5,451.4 100.8,448.2 101.1,448.2 101.4,448.2 101.7,451.0 102.0,452.2 102.3,452.2 102.6,452.2 102.9,452.2 103.2,451.2 103.5,450.8 103.8,451.2 104.1,450.8 104.4,449.8 104.7,449.8 105.0,453.7 105.3,449.8 105.6,449.8 105.9,449.6 106.2,449.6 106.5,449.6 106.8,447.4 107.1,447.4 107.4,450.9 107.7,452.2 108.0,452.2 108.3,452.2 108.6,452.2 108.9,447.8 109.2,447.8 109.5,447.8 109.8,447.8 110.1,447.1 110.4,447.1 110.7,446.9 111.0,446.9 111.3,445.9 111.6,445.4 111.9,445.9 112.2,445.4 112.5,445.4 112.8,447.9 113.1,447.9 113.4,447.9 113.7,447.9 114.0,449.5 114.3,449.5 114.6,449.5 114.9,448.2 115.2,448.2 115.5,444.4 115.8,444.4 116.1,446.8 116.4,446.8 116.7,446.8 117.0,449.6 117.3,449.6 117.6,444.5 117.9,449.5 118.2,449.5 118.5,449.5 118.8,449.5 119.1,449.5 119.4,450.6 119.7,450.6 120.0,449.5 120.3,449.5 120.6,449.5 120.9,446.5 121.2,449.2 121.5,446.5 121.8,446.5 122.1,443.7 122.4,449.2 122.7,443.7 123.1,438.0 123.4,442.4 123.7,442.4 124.0,442.4 124.3,442.5 124.6,442.5 124.9,442.5 125.2,442.5 125.5,442.5 125.8,449.3 126.1,449.3 126.4,451.7 126.7,451.7 127.0,451.7 127.3,451.6 127.6,451.6 127.9,447.4 128.2,447.2 128.5,447.1 128.8,447.2 129.1,447.2 129.4,447.2 129.7,447.1 130.0,448.6 130.3,446.4 130.6,446.6 130.9,446.6 131.2,446.6 131.5,446.6 131.8,451.2 132.1,451.2 132.4,451.2 132.7,451.2 133.0,449.8 133.3,449.4 133.6,449.8 133.9,449.4 134.2,450.4 134.5,450.4 134.8,452.5 135.1,450.4 135.4,450.4 135.7,453.8 136.0,453.8 136.3,451.2 136.6,451.2 136.9,451.2 137.2,448.5 137.5,448.5 137.8,448.5 138.1,450.7 138.4,450.7 138.7,450.7 139.0,450.7 139.3,450.4 139.6,445.4 139.9,445.4 140.2,445.4 140.5,447.9 140.8,448.6 141.1,450.1 141.4,450.1 141.7,450.1 142.0,451.4 142.3,452.4 142.6,452.4 142.9,451.4 143.2,451.4 143.5,448.8 143.8,446.9 144.1,445.4 144.4,448.8 144.7,449.5 145.0,449.5 145.3,449.5 145.6,449.5 145.9,445.4 146.2,444.7 146.5,445.4 146.8,444.7 147.1,447.8 147.4,450.0 147.8,450.0 148.1,450.0 148.4,452.2 148.7,452.2 149.0,448.8 149.3,448.8 149.6,448.8 149.9,447.6 150.2,448.8 150.5,447.6 150.8,445.5 151.1,444.9 151.4,448.4 151.7,444.9 152.0,443.1 152.3,440.6 152.6,448.4 152.9,442.8 153.2,449.8 153.5,449.8 153.8,449.8 154.1,442.8 154.4,449.7 154.7,441.1 155.0,441.1 155.3,446.0 155.6,446.0 155.9,446.0 156.2,446.0 156.5,446.0 156.8,445.6 157.1,445.6 157.4,445.6 157.7,448.7 158.0,448.7 158.3,448.7 158.6,448.7 158.9,447.5 159.2,443.7 159.5,443.7 159.8,441.7 160.1,441.7 160.4,448.0 160.7,448.0 161.0,449.7 161.3,449.7 161.6,448.5 161.9,449.7 162.2,449.7 162.5,448.5 162.8,449.2 163.1,449.2 163.4,449.2 163.7,450.9 164.0,450.9 164.3,450.9 164.6,451.9 164.9,450.9 165.2,448.2 165.5,448.2 165.8,447.0 166.1,447.0 166.4,449.5 166.7,449.5 167.0,449.5 167.3,449.5 167.6,449.4 167.9,449.0 168.2,447.0 168.5,447.0 168.8,447.0 169.1,449.5 169.4,449.5 169.7,449.9 170.0,450.2 170.3,450.2 170.6,452.1 170.9,453.3 171.2,452.1 171.5,452.1 171.8,452.1 172.2,450.0 172.5,450.0 172.8,450.0 173.1,450.5 173.4,450.5 173.7,450.5 174.0,451.9 174.3,451.9 174.6,450.9 174.9,451.7 175.2,452.5 175.5,451.7 175.8,451.7 176.1,451.7 176.4,450.0 176.7,449.7 177.0,449.7 177.3,450.0 177.6,450.0 177.9,450.9 178.2,450.9 178.5,450.9 178.8,450.4 179.1,450.4 179.4,450.1 179.7,448.3 180.0,444.4 180.3,446.6 180.6,446.6 180.9,446.8 181.2,450.1 181.5,450.1 181.8,450.1 182.1,446.8 182.4,446.9 182.7,446.9 183.0,446.9 183.3,446.9 183.6,449.0 183.9,449.0 184.2,447.6 184.5,449.3 184.8,449.3 185.1,449.8 185.4,449.8 185.7,449.8 186.0,447.1 186.3,442.2 186.6,442.2 186.9,442.2 187.2,442.8 187.5,442.8 187.8,442.8 188.1,450.0 188.4,450.0 188.7,442.6 189.0,450.0 189.3,450.0 189.6,445.8 189.9,445.9 190.2,445.9 190.5,445.9 190.8,445.9 191.1,445.9 191.4,444.1 191.7,444.1 192.0,444.1 192.3,442.5 192.6,444.8 192.9,444.8 193.2,447.7 193.5,451.5 193.8,451.5 194.1,451.5 194.4,453.9 194.7,453.9 195.0,453.9 195.3,453.9 195.6,453.1 195.9,453.1 196.2,453.5 196.6,453.5 196.9,453.5 197.2,453.5 197.5,453.5 197.8,453.9 198.1,453.9 198.4,453.9 198.7,453.9 199.0,452.1 199.3,451.4 199.6,451.4 199.9,453.9 200.2,454.4 200.5,454.7 200.8,454.7 201.1,454.7 201.4,454.7 201.7,454.7 202.0,453.1 202.3,453.1 202.6,452.0 202.9,452.0 203.2,452.0 203.5,453.5 203.8,454.2 204.1,454.2 204.4,454.2 204.7,453.5 205.0,453.3 205.3,453.3 205.6,453.3 205.9,453.7 206.2,453.7 206.5,454.1 206.8,453.7 207.1,454.1 207.4,454.1 207.7,454.1 208.0,453.8 208.3,454.4 208.6,453.8 208.9,453.8 209.2,451.5 209.5,450.6 209.8,450.6 210.1,449.8 210.4,449.8 210.7,451.6 211.0,453.6 211.3,453.6 211.6,453.6 211.9,453.6 212.2,451.0 212.5,451.0 212.8,451.0 213.1,449.3 213.4,449.5 213.7,451.8 214.0,451.5 214.3,451.5 214.6,451.5 214.9,451.5 215.2,450.4 215.5,449.6 215.8,449.6 216.1,447.7 216.4,447.7 216.7,447.7 217.0,447.1 217.3,445.7 217.6,447.4 217.9,445.7 218.2,445.3 218.5,443.2 218.8,443.2 219.1,442.7 219.4,441.4 219.7,441.3 220.0,441.3 220.3,441.3 220.6,441.3 221.0,441.3 221.3,444.7 221.6,441.0 221.9,441.0 222.2,436.7 222.5,439.2 222.8,436.7 223.1,439.2 223.4,439.2 223.7,443.4 224.0,443.7 224.3,443.7 224.6,443.7 224.9,443.7 225.2,443.7 225.5,440.6 225.8,440.6 226.1,440.6 226.4,442.8 226.7,441.2 227.0,441.2 227.3,441.2 227.6,442.8 227.9,444.6 228.2,444.6 228.5,448.8 228.8,449.1 229.1,449.1 229.4,449.1 229.7,449.1 230.0,446.1 230.3,446.1 230.6,446.2 230.9,446.2 231.2,446.2 231.5,446.2 231.8,446.2 232.1,446.1 232.4,450.2 232.7,450.2 233.0,450.2 233.0,460.8" fill="#200303"/>
<line x1="37.50" y1="384.95" x2="37.50" y2="461.75" stroke="#000" stroke-width="2.60"/>
<line x1="33.80" y1="460.75" x2="37.50" y2="460.75" stroke="#000" stroke-width="2.10"/>
<line x1="33.80" y1="445.75" x2="37.50" y2="445.75" stroke="#000" stroke-width="2.10"/>
<line x1="33.80" y1="430.75" x2="37.50" y2="430.75" stroke="#000" stroke-width="2.10"/>
<line x1="33.80" y1="415.75" x2="37.50" y2="415.75" stroke="#000" stroke-width="2.10"/>
<line x1="33.80" y1="400.75" x2="37.50" y2="400.75" stroke="#000" stroke-width="2.10"/>
<line x1="33.80" y1="385.75" x2="37.50" y2="385.75" stroke="#000" stroke-width="2.10"/>
<text x="27.50" y="463.95" font-size="10.00" text-anchor="middle" textLength="5.84" lengthAdjust="spacingAndGlyphs" stroke="#231f20">0</text>
<text x="27.50" y="448.95" font-size="10.00" text-anchor="middle" textLength="11.68" lengthAdjust="spacingAndGlyphs" stroke="#231f20">10</text>
<text x="27.50" y="433.95" font-size="10.00" text-anchor="middle" textLength="11.68" lengthAdjust="spacingAndGlyphs" stroke="#231f20">20</text>
<text x="27.50" y="418.95" font-size="10.00" text-anchor="middle" textLength="11.68" lengthAdjust="spacingAndGlyphs" stroke="#231f20">30</text>
<text x="27.50" y="403.95" font-size="10.00" text-anchor="middle" textLength="11.68" lengthAdjust="spacingAndGlyphs" stroke="#231f20">40</text>
<text x="27.50" y="388.95" font-size="10.00" text-anchor="middle" textLength="11.68" lengthAdjust="spacingAndGlyphs" stroke="#231f20">50</text>
<line x1="36.20" y1="460.75" x2="234.30" y2="460.75" stroke="#000" stroke-width="2.40"/>
<line x1="37.50" y1="460.75" x2="37.50" y2="464.25" stroke="#000" stroke-width="2.20"/>
<line x1="86.38" y1="460.75" x2="86.38" y2="464.25" stroke="#000" stroke-width="2.20"/>
<line x1="135.25" y1="460.75" x2="135.25" y2="464.25" stroke="#000" stroke-width="2.20"/>
<line x1="184.12" y1="460.75" x2="184.12" y2="464.25" stroke="#000" stroke-width="2.20"/>
<line x1="233.00" y1="460.75" x2="233.00" y2="464.25" stroke="#000" stroke-width="2.20"/>
<text x="30.50" y="474.25" font-size="10.00" textLength="22.76" lengthAdjust="spacingAndGlyphs" stroke="#231f20">0min</text>
<text x="77.50" y="474.25" font-size="10.00" textLength="28.60" lengthAdjust="spacingAndGlyphs" stroke="#231f20">30min</text>
<text x="126.00" y="474.25" font-size="10.00" textLength="28.60" lengthAdjust="spacingAndGlyphs" stroke="#231f20">60min</text>
<text x="175.50" y="474.25" font-size="10.00" textLength="28.60" lengthAdjust="spacingAndGlyphs" stroke="#231f20">90min</text>
<text x="222.50" y="474.25" font-size="10.00" textLength="34.44" lengthAdjust="spacingAndGlyphs" stroke="#231f20">120min</text>
<text transform="translate(14.15 421.60) rotate(-90)" font-size="11.00" font-weight="bold" text-anchor="middle" textLength="84.00" lengthAdjust="spacingAndGlyphs" stroke="#231f20">Firing rates (Hz)</text>
<text x="102.50" y="382.00" font-size="13.00" font-weight="bold" textLength="61.20" lengthAdjust="spacingAndGlyphs" fill="#1a9fe0" stroke="#1a9fe0">Proestrus</text>
<polygon points="36.9,620.8 36.9,613.9 37.3,612.9 37.7,614.9 38.0,613.2 38.4,611.7 38.8,613.1 39.2,609.6 39.5,615.7 39.9,613.9 40.3,615.4 40.7,615.5 41.1,614.4 41.4,613.5 41.8,613.0 42.2,612.8 42.6,607.0 42.9,611.9 43.3,616.7 43.7,613.5 44.1,615.2 44.5,615.0 44.8,610.5 45.2,614.4 45.6,616.9 46.0,612.6 46.3,613.8 46.7,604.2 47.1,614.7 47.5,613.9 47.9,612.1 48.2,613.0 48.6,611.7 49.0,605.4 49.4,614.3 49.7,614.5 50.1,605.8 50.5,610.1 50.9,615.0 51.3,609.7 51.6,616.3 52.0,615.9 52.4,614.1 52.8,615.7 53.1,615.3 53.5,613.0 53.9,612.4 54.3,613.9 54.7,614.7 55.0,610.6 55.4,613.3 55.8,614.7 56.2,611.1 56.5,615.8 56.9,613.9 57.3,612.7 57.7,614.3 58.1,607.2 58.4,613.5 58.8,615.3 59.2,615.4 59.6,616.1 59.9,611.0 60.3,615.4 60.7,611.5 61.1,613.6 61.5,614.9 61.8,612.9 62.2,613.9 62.6,614.2 63.0,616.7 63.3,614.3 63.7,612.4 64.1,613.5 64.5,612.2 64.9,610.8 65.2,613.7 65.6,609.2 66.0,617.0 66.4,615.1 66.7,618.0 67.1,612.8 67.5,614.5 67.9,610.3 68.3,615.4 68.6,617.6 69.0,611.7 69.4,605.8 69.8,616.7 70.2,615.0 70.5,613.3 70.9,615.5 71.3,614.2 71.7,617.3 72.0,609.8 72.4,614.6 72.8,614.1 73.2,613.0 73.6,613.9 73.9,613.8 74.3,615.9 74.7,614.4 75.1,613.1 75.4,611.4 75.8,614.3 76.2,613.8 76.6,613.2 77.0,612.5 77.3,613.4 77.7,614.4 78.1,614.8 78.5,610.7 78.8,613.0 79.2,613.6 79.6,599.0 80.0,611.2 80.4,611.2 80.7,613.1 81.1,615.5 81.5,610.2 81.9,613.5 82.2,613.2 82.6,610.3 83.0,610.1 83.4,612.3 83.8,612.7 84.1,604.7 84.5,610.7 84.9,614.6 85.3,609.7 85.6,611.4 86.0,611.6 86.4,609.3 86.8,610.6 87.2,602.6 87.5,610.4 87.9,610.0 88.3,606.1 88.7,612.2 89.0,606.3 89.4,610.5 89.8,605.5 90.2,612.8 90.6,608.9 90.9,614.6 91.3,611.8 91.7,610.5 92.1,608.8 92.4,601.7 92.8,602.6 93.2,614.2 93.6,612.9 94.0,599.8 94.3,609.3 94.7,614.4 95.1,609.3 95.5,613.9 95.8,613.4 96.2,614.4 96.6,612.2 97.0,602.2 97.4,610.8 97.7,612.4 98.1,602.0 98.5,613.7 98.9,613.2 99.2,613.6 99.6,612.1 100.0,614.1 100.4,609.5 100.8,614.5 101.1,612.8 101.5,613.8 101.9,616.0 102.3,607.2 102.6,614.8 103.0,617.9 103.4,614.7 103.8,614.6 104.2,614.5 104.5,614.9 104.9,614.0 105.3,615.4 105.7,613.4 106.0,617.2 106.4,612.7 106.8,616.2 107.2,613.7 107.6,615.6 107.9,615.5 108.3,616.1 108.7,611.5 109.1,616.5 109.4,616.7 109.8,614.3 110.2,614.2 110.6,614.7 111.0,616.3 111.3,615.9 111.7,612.7 112.1,616.4 112.5,613.5 112.8,613.2 113.2,614.5 113.6,616.7 114.0,609.7 114.4,614.5 114.7,614.4 115.1,615.4 115.5,616.3 115.9,615.2 116.2,614.4 116.6,616.2 117.0,614.5 117.4,612.1 117.8,613.8 118.1,614.9 118.5,612.4 118.9,612.0 119.3,611.1 119.6,614.6 120.0,615.9 120.4,608.8 120.8,610.6 121.2,611.3 121.5,607.5 121.9,601.2 122.3,611.4 122.7,601.3 123.0,614.5 123.4,607.8 123.8,607.8 124.2,605.2 124.6,611.7 124.9,611.6 125.3,615.2 125.7,613.2 126.1,617.0 126.4,614.6 126.8,613.5 127.2,613.7 127.6,614.5 128.0,610.3 128.3,616.4 128.7,613.3 129.1,614.5 129.5,613.7 129.8,613.7 130.2,607.9 130.6,615.9 131.0,610.3 131.4,610.1 131.7,614.2 132.1,614.9 132.5,615.8 132.9,615.0 133.2,605.7 133.6,616.7 134.0,611.1 134.4,613.8 134.8,604.5 135.1,610.6 135.5,614.6 135.9,612.6 136.3,610.2 136.7,610.2 137.0,613.0 137.4,611.0 137.8,611.3 138.2,607.7 138.5,608.4 138.9,608.5 139.3,611.2 139.7,605.8 140.1,611.0 140.4,611.7 140.8,610.4 141.2,610.0 141.6,609.8 141.9,614.2 142.3,602.0 142.7,605.8 143.1,601.9 143.5,609.8 143.8,604.8 144.2,607.3 144.6,602.8 145.0,598.2 145.3,610.3 145.7,605.7 146.1,613.6 146.5,606.0 146.9,609.1 147.2,611.9 147.6,610.7 148.0,604.2 148.4,612.2 148.7,608.3 149.1,615.7 149.5,604.3 149.9,604.9 150.3,611.7 150.6,613.6 151.0,613.5 151.4,613.4 151.8,612.4 152.1,600.6 152.5,614.1 152.9,609.3 153.3,608.1 153.7,614.8 154.0,613.9 154.4,612.1 154.8,615.3 155.2,610.7 155.5,607.4 155.9,614.1 156.3,615.6 156.7,612.6 157.1,613.2 157.4,615.4 157.8,614.3 158.2,613.8 158.6,612.8 158.9,611.0 159.3,615.0 159.7,616.3 160.1,616.7 160.5,608.5 160.8,614.8 161.2,614.8 161.6,605.9 162.0,611.1 162.3,606.9 162.7,614.4 163.1,615.3 163.5,615.0 163.9,612.4 164.2,613.0 164.6,613.1 165.0,606.8 165.4,610.3 165.7,616.0 166.1,613.0 166.5,612.6 166.9,615.4 167.3,606.6 167.6,611.7 168.0,609.8 168.4,615.1 168.8,616.1 169.1,612.2 169.5,614.4 169.9,615.1 170.3,614.2 170.7,613.5 171.0,613.7 171.4,614.4 171.8,612.9 172.2,603.7 172.5,610.9 172.9,615.0 173.3,607.8 173.7,615.0 174.1,616.6 174.4,616.4 174.8,617.2 175.2,611.0 175.6,616.0 175.9,605.8 176.3,615.1 176.7,614.4 177.1,616.2 177.5,615.1 177.8,614.0 178.2,612.5 178.6,615.8 179.0,612.7 179.3,613.4 179.7,612.7 180.1,615.1 180.5,616.1 180.9,611.6 181.2,612.6 181.6,615.3 182.0,615.5 182.4,612.3 182.7,607.9 183.1,613.2 183.5,605.6 183.9,613.3 184.3,613.2 184.6,612.9 185.0,611.2 185.4,616.6 185.8,613.7 186.1,610.6 186.5,616.7 186.9,613.5 187.3,612.2 187.7,609.1 188.0,609.6 188.4,614.1 188.8,607.7 189.2,616.0 189.5,616.5 189.9,610.4 190.3,612.4 190.7,616.1 191.1,611.2 191.4,611.8 191.8,612.2 192.2,614.9 192.6,616.3 192.9,616.8 193.3,614.5 193.7,614.3 194.1,615.0 194.5,615.1 194.8,611.7 195.2,616.1 195.6,615.4 196.0,608.0 196.3,615.3 196.7,615.3 197.1,611.3 197.5,617.0 197.9,609.4 198.2,616.3 198.6,599.8 199.0,616.3 199.4,615.8 199.7,615.4 200.1,611.7 200.5,614.2 200.9,610.3 201.3,612.1 201.6,616.3 202.0,614.0 202.4,615.3 202.8,614.9 203.2,613.8 203.5,613.2 203.9,613.1 204.3,617.4 204.7,614.4 205.0,615.0 205.4,608.7 205.8,614.6 206.2,614.2 206.6,614.1 206.9,612.3 207.3,616.2 207.7,614.5 208.1,614.5 208.4,614.2 208.8,614.7 209.2,615.3 209.6,614.0 210.0,616.5 210.3,609.8 210.7,614.3 211.1,617.1 211.5,614.8 211.8,612.0 212.2,614.7 212.6,614.6 213.0,617.7 213.4,607.2 213.7,614.2 214.1,617.3 214.5,615.2 214.9,610.5 215.2,613.5 215.6,616.8 216.0,615.4 216.4,613.9 216.8,608.4 217.1,613.9 217.5,612.7 217.9,615.0 218.3,614.3 218.6,616.2 219.0,616.6 219.4,616.7 219.8,615.6 220.2,611.3 220.5,614.6 220.9,611.5 221.3,612.7 221.7,614.2 222.0,615.4 222.4,608.3 222.8,611.8 223.2,611.5 223.6,606.9 223.9,610.7 224.3,614.1 224.7,613.8 225.1,613.4 225.4,608.0 225.8,616.3 226.2,617.3 226.6,615.5 227.0,614.6 227.3,615.7 227.7,612.5 228.1,607.2 228.5,614.7 228.8,614.5 229.2,609.5 229.6,609.2 230.0,610.1 230.4,615.4 230.7,611.8 231.1,616.6 231.5,617.4 231.9,610.3 232.2,612.8 232.6,613.3 233.0,611.2 233.0,620.8" fill="#e4201c" stroke="#e4201c" stroke-width="0.45" stroke-linejoin="bevel"/>
<polygon points="36.9,620.8 36.9,615.5 37.3,615.5 37.7,615.5 38.0,615.5 38.4,615.5 38.8,616.2 39.2,616.2 39.5,616.2 39.9,616.2 40.3,616.2 40.7,616.0 41.1,616.0 41.4,616.0 41.8,615.0 42.2,614.2 42.6,617.1 42.9,617.1 43.3,617.1 43.7,617.1 44.1,617.1 44.5,615.8 44.8,617.3 45.2,617.3 45.6,617.3 46.0,617.3 46.3,617.3 46.7,615.3 47.1,615.3 47.5,615.3 47.9,615.3 48.2,614.2 48.6,614.8 49.0,615.2 49.4,615.2 49.7,615.2 50.1,615.5 50.5,615.5 50.9,616.8 51.3,616.8 51.6,616.8 52.0,616.8 52.4,616.8 52.8,616.4 53.1,616.2 53.5,616.2 53.9,615.8 54.3,615.3 54.7,615.3 55.0,615.3 55.4,615.3 55.8,616.3 56.2,616.3 56.5,616.3 56.9,616.3 57.3,616.3 57.7,614.9 58.1,615.9 58.4,616.0 58.8,616.6 59.2,616.6 59.6,616.6 59.9,616.6 60.3,616.6 60.7,615.9 61.1,615.9 61.5,615.5 61.8,615.5 62.2,617.1 62.6,617.1 63.0,617.1 63.3,617.1 63.7,617.1 64.1,615.0 64.5,614.4 64.9,614.4 65.2,617.3 65.6,617.3 66.0,617.8 66.4,617.6 66.7,618.3 67.1,618.0 67.5,617.4 67.9,617.9 68.3,617.9 68.6,617.9 69.0,617.9 69.4,617.9 69.8,617.1 70.2,617.1 70.5,617.1 70.9,617.7 71.3,617.6 71.7,617.7 72.0,617.2 72.4,617.2 72.8,615.2 73.2,615.2 73.6,616.4 73.9,616.4 74.3,616.4 74.7,616.4 75.1,616.4 75.4,615.0 75.8,614.9 76.2,614.9 76.6,614.9 77.0,615.0 77.3,615.4 77.7,615.4 78.1,615.4 78.5,615.4 78.8,615.4 79.2,614.3 79.6,614.3 80.0,614.3 80.4,616.0 80.7,616.0 81.1,616.0 81.5,616.0 81.9,616.0 82.2,614.3 82.6,614.3 83.0,613.9 83.4,613.5 83.8,613.5 84.1,615.2 84.5,615.2 84.9,615.2 85.3,615.2 85.6,615.2 86.0,612.5 86.4,612.5 86.8,612.5 87.2,611.6 87.5,611.6 87.9,613.0 88.3,613.0 88.7,613.0 89.0,612.2 89.4,613.6 89.8,611.7 90.2,612.8 90.6,611.0 90.9,614.6 91.3,611.8 91.7,610.6 92.1,610.4 92.4,614.8 92.8,614.9 93.2,614.2 93.6,612.9 94.0,613.4 94.3,614.8 94.7,614.4 95.1,612.8 95.5,613.9 95.8,613.7 96.2,614.4 96.6,614.2 97.0,615.1 97.4,613.3 97.7,614.4 98.1,614.4 98.5,614.4 98.9,614.4 99.2,614.8 99.6,614.8 100.0,615.1 100.4,615.1 100.8,615.1 101.1,616.5 101.5,616.5 101.9,616.5 102.3,617.5 102.6,617.8 103.0,618.0 103.4,618.2 103.8,618.1 104.2,615.5 104.5,615.9 104.9,615.9 105.3,617.5 105.7,617.5 106.0,617.5 106.4,617.5 106.8,617.5 107.2,616.7 107.6,616.7 107.9,616.6 108.3,616.9 108.7,617.1 109.1,617.1 109.4,617.1 109.8,617.1 110.2,617.1 110.6,616.8 111.0,616.8 111.3,616.9 111.7,616.9 112.1,616.9 112.5,616.9 112.8,617.1 113.2,617.1 113.6,617.1 114.0,617.1 114.4,617.1 114.7,616.8 115.1,616.8 115.5,616.8 115.9,616.8 116.2,616.8 116.6,616.6 117.0,616.6 117.4,616.6 117.8,615.5 118.1,615.5 118.5,615.5 118.9,615.5 119.3,615.4 119.6,615.2 120.0,615.9 120.4,609.4 120.8,610.9 121.2,611.3 121.5,611.3 121.9,611.3 122.3,614.4 122.7,615.1 123.0,615.1 123.4,615.1 123.8,615.1 124.2,612.6 124.6,615.7 124.9,615.7 125.3,617.3 125.7,617.3 126.1,617.2 126.4,617.3 126.8,617.3 127.2,615.2 127.6,616.9 128.0,616.9 128.3,616.9 128.7,616.9 129.1,616.9 129.5,615.2 129.8,616.3 130.2,616.3 130.6,616.3 131.0,616.3 131.4,616.3 131.7,616.3 132.1,616.3 132.5,616.3 132.9,617.1 133.2,617.1 133.6,617.1 134.0,617.1 134.4,617.1 134.8,615.2 135.1,615.2 135.5,615.2 135.9,615.2 136.3,615.2 136.7,613.8 137.0,613.8 137.4,613.5 137.8,612.5 138.2,612.2 138.5,612.2 138.9,612.2 139.3,612.2 139.7,611.3 140.1,612.3 140.4,611.9 140.8,610.4 141.2,613.0 141.6,612.6 141.9,614.2 142.3,609.5 142.7,610.5 143.1,610.1 143.5,610.9 143.8,610.9 144.2,610.5 144.6,608.1 145.0,611.0 145.3,610.7 145.7,610.9 146.1,613.6 146.5,612.8 146.9,609.1 147.2,612.8 147.6,610.7 148.0,610.2 148.4,612.2 148.7,610.7 149.1,615.7 149.5,613.8 149.9,613.2 150.3,614.2 150.6,613.6 151.0,614.3 151.4,614.3 151.8,614.7 152.1,614.7 152.5,614.7 152.9,615.4 153.3,615.4 153.7,615.4 154.0,615.8 154.4,615.8 154.8,615.8 155.2,615.8 155.5,616.1 155.9,616.1 156.3,616.1 156.7,616.1 157.1,616.1 157.4,616.0 157.8,616.0 158.2,616.0 158.6,615.5 158.9,616.7 159.3,617.1 159.7,617.1 160.1,617.1 160.5,617.1 160.8,617.1 161.2,615.4 161.6,615.4 162.0,615.4 162.3,615.9 162.7,615.9 163.1,615.9 163.5,615.9 163.9,615.9 164.2,615.6 164.6,613.8 165.0,616.5 165.4,616.5 165.7,616.5 166.1,616.5 166.5,616.5 166.9,616.0 167.3,616.0 167.6,616.0 168.0,616.5 168.4,616.5 168.8,616.5 169.1,616.5 169.5,616.5 169.9,615.7 170.3,615.7 170.7,615.7 171.0,615.1 171.4,615.1 171.8,615.1 172.2,615.6 172.5,615.6 172.9,615.6 173.3,617.0 173.7,617.0 174.1,617.3 174.4,617.6 174.8,617.6 175.2,617.6 175.6,617.6 175.9,616.5 176.3,616.7 176.7,616.7 177.1,616.7 177.5,616.7 177.8,616.7 178.2,616.3 178.6,616.3 179.0,616.3 179.3,616.3 179.7,616.6 180.1,616.6 180.5,616.6 180.9,616.6 181.2,616.6 181.6,616.0 182.0,616.0 182.4,616.0 182.7,616.0 183.1,614.1 183.5,614.1 183.9,614.1 184.3,614.1 184.6,617.0 185.0,617.0 185.4,617.0 185.8,617.1 186.1,617.1 186.5,617.1 186.9,617.1 187.3,617.1 187.7,614.7 188.0,614.7 188.4,616.5 188.8,616.9 189.2,616.9 189.5,616.9 189.9,616.9 190.3,616.9 190.7,616.5 191.1,616.5 191.4,616.5 191.8,616.7 192.2,617.2 192.6,617.2 192.9,617.2 193.3,617.2 193.7,617.2 194.1,615.7 194.5,616.5 194.8,616.5 195.2,616.5 195.6,616.5 196.0,616.5 196.3,616.0 196.7,617.4 197.1,617.3 197.5,617.4 197.9,617.4 198.2,617.4 198.6,616.7 199.0,616.7 199.4,616.7 199.7,616.7 200.1,616.3 200.5,616.0 200.9,616.7 201.3,616.7 201.6,616.7 202.0,616.7 202.4,616.7 202.8,615.8 203.2,615.8 203.5,617.6 203.9,617.7 204.3,617.7 204.7,617.7 205.0,617.7 205.4,615.6 205.8,615.6 206.2,615.2 206.6,616.7 206.9,616.7 207.3,616.7 207.7,616.7 208.1,616.7 208.4,615.8 208.8,615.8 209.2,616.9 209.6,616.9 210.0,616.9 210.3,617.5 210.7,617.3 211.1,617.3 211.5,617.5 211.8,617.5 212.2,617.2 212.6,618.0 213.0,618.0 213.4,617.8 213.7,617.7 214.1,617.7 214.5,617.7 214.9,617.7 215.2,617.2 215.6,617.2 216.0,617.2 216.4,617.2 216.8,616.0 217.1,615.6 217.5,615.6 217.9,616.6 218.3,617.0 218.6,617.1 219.0,617.1 219.4,617.1 219.8,617.1 220.2,617.1 220.5,616.1 220.9,615.2 221.3,616.0 221.7,616.0 222.0,616.0 222.4,616.0 222.8,616.0 223.2,612.7 223.6,614.8 223.9,614.8 224.3,614.8 224.7,614.8 225.1,616.8 225.4,617.7 225.8,617.7 226.2,617.7 226.6,617.7 227.0,617.7 227.3,616.2 227.7,616.2 228.1,616.2 228.5,615.3 228.8,615.3 229.2,615.3 229.6,615.9 230.0,615.9 230.4,617.0 230.7,617.5 231.1,617.7 231.5,617.5 231.9,617.7 232.2,617.7 232.6,614.0 233.0,614.0 233.0,620.8" fill="#200303"/>
<line x1="36.90" y1="544.95" x2="36.90" y2="621.75" stroke="#000" stroke-width="2.60"/>
<line x1="33.20" y1="620.75" x2="36.90" y2="620.75" stroke="#000" stroke-width="2.10"/>
<line x1="33.20" y1="605.75" x2="36.90" y2="605.75" stroke="#000" stroke-width="2.10"/>
<line x1="33.20" y1="590.75" x2="36.90" y2="590.75" stroke="#000" stroke-width="2.10"/>
<line x1="33.20" y1="575.75" x2="36.90" y2="575.75" stroke="#000" stroke-width="2.10"/>
<line x1="33.20" y1="560.75" x2="36.90" y2="560.75" stroke="#000" stroke-width="2.10"/>
<line x1="33.20" y1="545.75" x2="36.90" y2="545.75" stroke="#000" stroke-width="2.10"/>
<text x="27.50" y="623.95" font-size="10.00" text-anchor="middle" textLength="5.84" lengthAdjust="spacingAndGlyphs" stroke="#231f20">0</text>
<text x="27.50" y="608.95" font-size="10.00" text-anchor="middle" textLength="11.68" lengthAdjust="spacingAndGlyphs" stroke="#231f20">10</text>
<text x="27.50" y="593.95" font-size="10.00" text-anchor="middle" textLength="11.68" lengthAdjust="spacingAndGlyphs" stroke="#231f20">20</text>
<text x="27.50" y="578.95" font-size="10.00" text-anchor="middle" textLength="11.68" lengthAdjust="spacingAndGlyphs" stroke="#231f20">30</text>
<text x="27.50" y="563.95" font-size="10.00" text-anchor="middle" textLength="11.68" lengthAdjust="spacingAndGlyphs" stroke="#231f20">40</text>
<text x="27.50" y="548.95" font-size="10.00" text-anchor="middle" textLength="11.68" lengthAdjust="spacingAndGlyphs" stroke="#231f20">50</text>
<line x1="35.60" y1="620.75" x2="234.30" y2="620.75" stroke="#000" stroke-width="2.40"/>
<line x1="36.90" y1="620.75" x2="36.90" y2="624.25" stroke="#000" stroke-width="2.20"/>
<line x1="85.92" y1="620.75" x2="85.92" y2="624.25" stroke="#000" stroke-width="2.20"/>
<line x1="134.95" y1="620.75" x2="134.95" y2="624.25" stroke="#000" stroke-width="2.20"/>
<line x1="183.97" y1="620.75" x2="183.97" y2="624.25" stroke="#000" stroke-width="2.20"/>
<line x1="233.00" y1="620.75" x2="233.00" y2="624.25" stroke="#000" stroke-width="2.20"/>
<text x="30.50" y="633.75" font-size="10.00" textLength="22.76" lengthAdjust="spacingAndGlyphs" stroke="#231f20">0min</text>
<text x="77.50" y="633.75" font-size="10.00" textLength="28.60" lengthAdjust="spacingAndGlyphs" stroke="#231f20">30min</text>
<text x="125.75" y="633.75" font-size="10.00" textLength="28.60" lengthAdjust="spacingAndGlyphs" stroke="#231f20">60min</text>
<text x="175.00" y="633.75" font-size="10.00" textLength="28.60" lengthAdjust="spacingAndGlyphs" stroke="#231f20">90min</text>
<text x="222.50" y="633.75" font-size="10.00" textLength="34.44" lengthAdjust="spacingAndGlyphs" stroke="#231f20">120min</text>
<text transform="translate(14.15 583.00) rotate(-90)" font-size="11.00" font-weight="bold" text-anchor="middle" textLength="84.00" lengthAdjust="spacingAndGlyphs" stroke="#231f20">Firing rates (Hz)</text>
<text x="109.50" y="547.00" font-size="13.00" font-weight="bold" textLength="39.75" lengthAdjust="spacingAndGlyphs" fill="#1a9fe0" stroke="#1a9fe0">Estrus</text>
<polyline points="286.00,144.24 293.39,142.86 300.78,144.24 308.18,141.49 315.57,141.49 322.96,141.49 330.35,140.11 337.74,138.73 345.13,138.73 352.52,137.36 359.92,137.36 367.31,137.36 374.70,135.98 382.09,135.98 389.48,135.98 396.88,135.98 404.27,135.98 411.66,134.60 419.05,135.98 426.44,135.98 433.83,135.98 441.23,135.98 448.62,137.36 456.01,137.36 463.40,137.36" fill="none" stroke="#c9b67e" stroke-width="1.90" stroke-linejoin="round"/>
<polyline points="286.00,138.73 293.39,138.73 300.78,141.49 308.18,141.49 315.57,144.24 322.96,144.24 330.35,142.86 337.74,141.49 345.13,141.49 352.52,141.49 359.92,144.24 367.31,144.24 374.70,141.49 382.09,141.49 389.48,144.24 396.88,141.49 404.27,144.24 411.66,141.49 419.05,141.49 426.44,142.86 433.83,142.86 441.23,144.24 448.62,142.86 456.01,144.24 463.40,144.24" fill="none" stroke="#a35a70" stroke-width="1.90" stroke-linejoin="round"/>
<polyline points="286.00,119.46 293.39,144.24 300.78,144.24 308.18,141.49 315.57,142.86 322.96,142.86 330.35,141.49 337.74,142.86 345.13,138.73 352.52,141.49 359.92,144.24 367.31,142.86 374.70,144.24 382.09,144.24 389.48,145.62 396.88,145.62 404.27,144.24 411.66,144.24 419.05,146.99 426.44,146.99 433.83,146.99 441.23,146.99 448.62,148.37 456.01,146.99 463.40,148.37" fill="none" stroke="#8b4a6b" stroke-width="1.90" stroke-linejoin="round"/>
<polyline points="286.00,115.33 293.39,130.47 300.78,130.47 308.18,130.47 315.57,130.47 322.96,129.10 330.35,129.10 337.74,127.72 345.13,129.10 352.52,130.47 359.92,130.47 367.31,127.72 374.70,127.72 382.09,130.47 389.48,133.23 396.88,129.10 404.27,133.23 411.66,130.47 419.05,131.85 426.44,130.47 433.83,131.85 441.23,131.85 448.62,133.23 456.01,129.10 463.40,131.85" fill="none" stroke="#f7941d" stroke-width="1.90" stroke-linejoin="round"/>
<polyline points="286.00,127.72 293.39,129.10 300.78,130.47 308.18,131.85 315.57,131.85 322.96,133.23 330.35,133.23 337.74,133.23 345.13,133.23 352.52,133.23 359.92,133.23 367.31,133.23 374.70,133.23 382.09,133.23 389.48,133.23 396.88,133.23 404.27,131.85 411.66,131.85 419.05,130.47 426.44,130.47 433.83,130.47 441.23,130.47 448.62,130.47 456.01,130.47 463.40,129.10" fill="none" stroke="#b8a46c" stroke-width="1.90" stroke-linejoin="round"/>
<polyline points="286.00,146.99 293.39,144.24 300.78,144.24 308.18,141.49 315.57,141.49 322.96,111.20 330.35,146.99 337.74,138.73 345.13,138.73 352.52,133.23 359.92,141.49 367.31,138.73 374.70,144.24 382.09,138.73 389.48,144.24 396.88,146.99 404.27,144.24 411.66,138.73 419.05,135.98 426.44,146.99 433.83,146.99 441.23,144.24 448.62,146.99 456.01,148.37 463.40,149.75" fill="none" stroke="#5e7fa0" stroke-width="1.90" stroke-linejoin="round"/>
<polyline points="286.00,144.24 293.39,138.73 300.78,138.73 308.18,138.73 315.57,138.73 322.96,97.43 330.35,145.62 337.74,144.24 345.13,127.72 352.52,135.98 359.92,133.23 367.31,144.24 374.70,138.73 382.09,133.23 389.48,138.73 396.88,144.24 404.27,130.47 411.66,144.24 419.05,122.21 426.44,141.49 433.83,144.24 441.23,138.73 448.62,144.24 456.01,144.24 463.40,146.99" fill="none" stroke="#7b5ea7" stroke-width="1.90" stroke-linejoin="round"/>
<polyline points="286.00,145.62 293.39,131.85 300.78,135.98 308.18,142.86 315.57,138.73 322.96,130.47 330.35,144.24 337.74,141.49 345.13,138.73 352.52,135.98 359.92,134.60 367.31,141.49 374.70,138.73 382.09,135.98 389.48,135.98 396.88,135.98 404.27,138.73 411.66,135.98 419.05,137.36 426.44,137.36 433.83,137.36 441.23,134.60 448.62,140.11 456.01,134.60 463.40,133.23" fill="none" stroke="#4a90c2" stroke-width="1.90" stroke-linejoin="round"/>
<polyline points="286.00,141.49 293.39,130.47 300.78,134.60 308.18,134.60 315.57,130.47 322.96,130.47 330.35,130.47 337.74,123.59 345.13,131.85 352.52,123.59 359.92,130.47 367.31,129.10 374.70,129.10 382.09,133.23 389.48,134.60 396.88,135.98 404.27,135.98 411.66,137.36 419.05,137.36 426.44,135.98 433.83,134.60 441.23,133.23 448.62,131.85 456.01,135.98 463.40,134.60" fill="none" stroke="#13985a" stroke-width="1.90" stroke-linejoin="round"/>
<line x1="286.00" y1="69.10" x2="286.00" y2="153.50" stroke="#000" stroke-width="2.60"/>
<line x1="282.30" y1="152.50" x2="286.00" y2="152.50" stroke="#000" stroke-width="2.10"/>
<line x1="282.30" y1="124.97" x2="286.00" y2="124.97" stroke="#000" stroke-width="2.10"/>
<line x1="282.30" y1="97.43" x2="286.00" y2="97.43" stroke="#000" stroke-width="2.10"/>
<line x1="282.30" y1="69.90" x2="286.00" y2="69.90" stroke="#000" stroke-width="2.10"/>
<text x="274.20" y="155.70" font-size="10.00" text-anchor="middle" textLength="5.84" lengthAdjust="spacingAndGlyphs" stroke="#231f20">0</text>
<text x="274.20" y="128.17" font-size="10.00" text-anchor="middle" textLength="11.68" lengthAdjust="spacingAndGlyphs" stroke="#231f20">10</text>
<text x="274.20" y="100.63" font-size="10.00" text-anchor="middle" textLength="11.68" lengthAdjust="spacingAndGlyphs" stroke="#231f20">20</text>
<text x="274.20" y="73.10" font-size="10.00" text-anchor="middle" textLength="11.68" lengthAdjust="spacingAndGlyphs" stroke="#231f20">30</text>
<line x1="284.70" y1="152.50" x2="464.70" y2="152.50" stroke="#000" stroke-width="2.40"/>
<line x1="286.00" y1="152.50" x2="286.00" y2="156.00" stroke="#000" stroke-width="2.20"/>
<line x1="330.35" y1="152.50" x2="330.35" y2="156.00" stroke="#000" stroke-width="2.20"/>
<line x1="374.70" y1="152.50" x2="374.70" y2="156.00" stroke="#000" stroke-width="2.20"/>
<line x1="419.05" y1="152.50" x2="419.05" y2="156.00" stroke="#000" stroke-width="2.20"/>
<line x1="463.40" y1="152.50" x2="463.40" y2="156.00" stroke="#000" stroke-width="2.20"/>
<text x="272.50" y="164.50" font-size="10.00" textLength="22.76" lengthAdjust="spacingAndGlyphs" stroke="#231f20">0min</text>
<text x="316.25" y="164.50" font-size="10.00" textLength="28.60" lengthAdjust="spacingAndGlyphs" stroke="#231f20">30min</text>
<text x="360.00" y="164.50" font-size="10.00" textLength="28.60" lengthAdjust="spacingAndGlyphs" stroke="#231f20">60min</text>
<text x="403.80" y="164.50" font-size="10.00" textLength="28.60" lengthAdjust="spacingAndGlyphs" stroke="#231f20">90min</text>
<text x="447.70" y="164.50" font-size="10.00" textLength="34.44" lengthAdjust="spacingAndGlyphs" stroke="#231f20">120min</text>
<text transform="translate(262.90 107.90) rotate(-90)" font-size="11.00" font-weight="bold" text-anchor="middle" textLength="84.00" lengthAdjust="spacingAndGlyphs" stroke="#231f20">Firing rates (Hz)</text>
<polyline points="282.70,298.27 290.00,295.63 297.31,295.63 304.61,294.31 311.92,295.63 319.22,295.63 326.52,295.63 333.83,296.95 341.13,295.63 348.44,295.63 355.74,295.63 363.05,296.95 370.35,296.95 377.65,298.27 384.96,298.27 392.26,298.27 399.57,296.95 406.87,298.27 414.17,298.27 421.48,298.27 428.78,298.27 436.09,298.27 443.39,298.27 450.70,299.59 458.00,300.91" fill="none" stroke="#c8c83a" stroke-width="1.90" stroke-linejoin="round"/>
<polyline points="282.70,299.59 290.00,296.95 297.31,298.27 304.61,298.27 311.92,298.27 319.22,295.63 326.52,296.95 333.83,296.95 341.13,298.27 348.44,298.27 355.74,296.95 363.05,298.27 370.35,298.27 377.65,299.59 384.96,299.59 392.26,299.59 399.57,299.59 406.87,299.59 414.17,299.59 421.48,300.91 428.78,300.91 436.09,299.59 443.39,296.95 450.70,296.95 458.00,294.31" fill="none" stroke="#8d8d3c" stroke-width="1.90" stroke-linejoin="round"/>
<polyline points="282.70,296.95 290.00,296.95 297.31,296.95 304.61,296.95 311.92,298.27 319.22,298.27 326.52,296.95 333.83,296.95 341.13,296.95 348.44,295.63 355.74,295.63 363.05,295.63 370.35,294.31 377.65,294.31 384.96,295.63 392.26,295.63 399.57,294.31 406.87,292.98 414.17,287.70 421.48,282.41 428.78,278.44 436.09,277.12 443.39,279.77 450.70,287.70 458.00,279.77" fill="none" stroke="#1f3a6e" stroke-width="1.90" stroke-linejoin="round"/>
<polyline points="282.70,296.95 290.00,296.95 297.31,296.95 304.61,295.63 311.92,298.27 319.22,296.95 326.52,279.77 333.83,295.63 341.13,296.95 348.44,295.63 355.74,294.31 363.05,295.63 370.35,294.31 377.65,292.98 384.96,292.98 392.26,294.31 399.57,292.98 406.87,292.98 414.17,294.31 421.48,292.98 428.78,274.48 436.09,279.77 443.39,295.63 450.70,295.63 458.00,298.27" fill="none" stroke="#2c4fa0" stroke-width="1.90" stroke-linejoin="round"/>
<polyline points="282.70,282.41 290.00,281.09 297.31,285.05 304.61,286.38 311.92,290.34 319.22,292.98 326.52,291.66 333.83,292.98 341.13,294.31 348.44,290.34 355.74,292.98 363.05,289.02 370.35,290.34 377.65,287.70 384.96,292.98 392.26,287.70 399.57,290.34 406.87,287.70 414.17,290.34 421.48,292.98 428.78,290.34 436.09,290.34 443.39,291.66 450.70,289.02 458.00,291.66" fill="none" stroke="#1b8fa8" stroke-width="1.90" stroke-linejoin="round"/>
<polyline points="282.70,292.98 290.00,283.73 297.31,285.05 304.61,278.44 311.92,279.77 319.22,285.05 326.52,281.09 333.83,282.41 341.13,282.41 348.44,282.41 355.74,287.70 363.05,290.34 370.35,292.98 377.65,292.98 384.96,292.98 392.26,295.63 399.57,294.31 406.87,292.98 414.17,290.34 421.48,292.98 428.78,296.95 436.09,295.63 443.39,292.98 450.70,285.05 458.00,287.70" fill="none" stroke="#a0692b" stroke-width="1.90" stroke-linejoin="round"/>
<polyline points="282.70,289.02 290.00,279.77 297.31,285.05 304.61,287.70 311.92,287.70 319.22,290.34 326.52,292.98 333.83,283.73 341.13,285.05 348.44,290.34 355.74,292.98 363.05,290.34 370.35,287.70 377.65,287.70 384.96,289.02 392.26,287.70 399.57,282.41 406.87,269.19 414.17,285.05 421.48,287.70 428.78,289.02 436.09,282.41 443.39,285.05 450.70,271.84 458.00,285.05" fill="none" stroke="#f26522" stroke-width="1.90" stroke-linejoin="round"/>
<polyline points="282.70,279.77 290.00,282.41 297.31,287.70 304.61,290.34 311.92,290.34 319.22,287.70 326.52,278.44 333.83,290.34 341.13,292.98 348.44,292.98 355.74,292.98 363.05,294.31 370.35,285.05 377.65,285.05 384.96,282.41 392.26,274.48 399.57,273.16 406.87,287.70 414.17,277.12 421.48,285.05 428.78,282.41 436.09,285.05 443.39,274.48 450.70,263.91 458.00,255.98" fill="none" stroke="#9e1f63" stroke-width="1.90" stroke-linejoin="round"/>
<polyline points="282.70,292.98 290.00,281.09 297.31,290.34 304.61,283.73 311.92,290.34 319.22,290.34 326.52,292.98 333.83,295.63 341.13,292.98 348.44,292.98 355.74,290.34 363.05,287.70 370.35,285.05 377.65,285.05 384.96,283.73 392.26,275.80 399.57,285.05 406.87,283.73 414.17,282.41 421.48,278.44 428.78,279.77 436.09,282.41 443.39,282.41 450.70,277.12 458.00,273.16" fill="none" stroke="#39b54a" stroke-width="1.90" stroke-linejoin="round"/>
<line x1="282.70" y1="226.10" x2="282.70" y2="307.20" stroke="#000" stroke-width="2.60"/>
<line x1="279.00" y1="306.20" x2="282.70" y2="306.20" stroke="#000" stroke-width="2.10"/>
<line x1="279.00" y1="279.77" x2="282.70" y2="279.77" stroke="#000" stroke-width="2.10"/>
<line x1="279.00" y1="253.33" x2="282.70" y2="253.33" stroke="#000" stroke-width="2.10"/>
<line x1="279.00" y1="226.90" x2="282.70" y2="226.90" stroke="#000" stroke-width="2.10"/>
<text x="271.50" y="309.40" font-size="10.00" text-anchor="middle" textLength="5.84" lengthAdjust="spacingAndGlyphs" stroke="#231f20">0</text>
<text x="271.50" y="282.97" font-size="10.00" text-anchor="middle" textLength="11.68" lengthAdjust="spacingAndGlyphs" stroke="#231f20">10</text>
<text x="271.50" y="256.53" font-size="10.00" text-anchor="middle" textLength="11.68" lengthAdjust="spacingAndGlyphs" stroke="#231f20">20</text>
<text x="271.50" y="230.10" font-size="10.00" text-anchor="middle" textLength="11.68" lengthAdjust="spacingAndGlyphs" stroke="#231f20">30</text>
<line x1="281.40" y1="306.20" x2="459.30" y2="306.20" stroke="#000" stroke-width="2.40"/>
<line x1="282.70" y1="306.20" x2="282.70" y2="309.70" stroke="#000" stroke-width="2.20"/>
<line x1="326.52" y1="306.20" x2="326.52" y2="309.70" stroke="#000" stroke-width="2.20"/>
<line x1="370.35" y1="306.20" x2="370.35" y2="309.70" stroke="#000" stroke-width="2.20"/>
<line x1="414.18" y1="306.20" x2="414.18" y2="309.70" stroke="#000" stroke-width="2.20"/>
<line x1="458.00" y1="306.20" x2="458.00" y2="309.70" stroke="#000" stroke-width="2.20"/>
<text x="275.00" y="319.50" font-size="10.00" textLength="22.76" lengthAdjust="spacingAndGlyphs" stroke="#231f20">0min</text>
<text x="317.00" y="319.50" font-size="10.00" textLength="28.60" lengthAdjust="spacingAndGlyphs" stroke="#231f20">30min</text>
<text x="357.50" y="319.50" font-size="10.00" textLength="28.60" lengthAdjust="spacingAndGlyphs" stroke="#231f20">60min</text>
<text x="402.00" y="319.50" font-size="10.00" textLength="28.60" lengthAdjust="spacingAndGlyphs" stroke="#231f20">90min</text>
<text x="445.00" y="319.50" font-size="10.00" textLength="34.44" lengthAdjust="spacingAndGlyphs" stroke="#231f20">120min</text>
<text transform="translate(262.40 265.60) rotate(-90)" font-size="11.00" font-weight="bold" text-anchor="middle" textLength="84.00" lengthAdjust="spacingAndGlyphs" stroke="#231f20">Firing rates (Hz)</text>
<polyline points="282.60,455.77 289.91,453.15 297.22,450.53 304.53,457.08 311.83,457.08 319.14,458.39 326.45,458.39 333.76,458.39 341.07,457.08 348.38,455.77 355.68,454.46 362.99,451.84 370.30,438.74 377.61,449.22 384.92,446.60 392.23,447.91 399.53,454.46 406.84,455.77 414.15,455.77 421.46,455.77 428.77,455.77 436.08,455.77 443.38,446.60 450.69,441.36 458.00,449.22" fill="none" stroke="#4a5cc8" stroke-width="1.90" stroke-linejoin="round"/>
<polyline points="282.60,446.60 289.91,446.60 297.22,447.91 304.53,450.53 311.83,449.22 319.14,450.53 326.45,451.84 333.76,450.53 341.07,450.53 348.38,450.53 355.68,451.84 362.99,451.84 370.30,449.22 377.61,443.98 384.92,441.36 392.23,442.67 399.53,441.36 406.84,440.05 414.15,442.67 421.46,441.36 428.77,438.74 436.08,438.74 443.38,438.74 450.69,441.36 458.00,443.98" fill="none" stroke="#c1272d" stroke-width="1.90" stroke-linejoin="round"/>
<polyline points="282.60,454.46 289.91,451.84 297.22,449.22 304.53,446.60 311.83,449.22 319.14,441.36 326.45,436.12 333.76,434.81 341.07,433.50 348.38,436.12 355.68,443.98 362.99,445.29 370.30,446.60 377.61,446.60 384.92,443.98 392.23,441.36 399.53,430.88 406.84,436.12 414.15,433.50 421.46,436.12 428.77,433.50 436.08,446.60 443.38,449.22 450.69,449.22 458.00,438.74" fill="none" stroke="#2ca0b4" stroke-width="1.90" stroke-linejoin="round"/>
<polyline points="282.60,457.08 289.91,453.15 297.22,449.22 304.53,441.36 311.83,441.36 319.14,443.98 326.45,436.12 333.76,433.50 341.07,430.88 348.38,428.26 355.68,430.88 362.99,433.50 370.30,423.02 377.61,425.64 384.92,425.64 392.23,425.64 399.53,428.26 406.84,430.88 414.15,433.50 421.46,433.50 428.77,430.88 436.08,430.88 443.38,430.88 450.69,430.88 458.00,430.88" fill="none" stroke="#273a7a" stroke-width="1.90" stroke-linejoin="round"/>
<polyline points="282.60,436.12 289.91,430.88 297.22,428.26 304.53,436.12 311.83,438.74 319.14,441.36 326.45,438.74 333.76,438.74 341.07,436.12 348.38,438.74 355.68,436.12 362.99,433.50 370.30,428.26 377.61,424.33 384.92,423.02 392.23,423.02 399.53,420.40 406.84,425.64 414.15,430.88 421.46,433.50 428.77,436.12 436.08,433.50 443.38,430.88 450.69,436.12 458.00,438.74" fill="none" stroke="#9e1f63" stroke-width="1.90" stroke-linejoin="round"/>
<polyline points="282.60,436.12 289.91,433.50 297.22,425.64 304.53,434.81 311.83,438.74 319.14,438.74 326.45,438.74 333.76,425.64 341.07,423.02 348.38,424.33 355.68,425.64 362.99,433.50 370.30,436.12 377.61,436.12 384.92,437.43 392.23,433.50 399.53,436.12 406.84,434.81 414.15,433.50 421.46,436.12 428.77,438.74 436.08,436.12 443.38,430.88 450.69,428.26 458.00,433.50" fill="none" stroke="#8c6239" stroke-width="1.90" stroke-linejoin="round"/>
<polyline points="282.60,433.50 289.91,433.50 297.22,434.81 304.53,419.09 311.83,420.40 319.14,417.78 326.45,420.40 333.76,423.02 341.07,421.71 348.38,428.26 355.68,428.26 362.99,425.64 370.30,430.88 377.61,426.95 384.92,425.64 392.23,432.19 399.53,432.19 406.84,433.50 414.15,430.88 421.46,428.26 428.77,425.64 436.08,436.12 443.38,430.88 450.69,413.85 458.00,436.12" fill="none" stroke="#f26522" stroke-width="1.90" stroke-linejoin="round"/>
<polyline points="282.60,436.12 289.91,433.50 297.22,433.50 304.53,438.74 311.83,433.50 319.14,438.74 326.45,436.12 333.76,446.60 341.07,437.43 348.38,415.16 355.68,417.78 362.99,428.26 370.30,447.91 377.61,438.74 384.92,446.60 392.23,430.88 399.53,428.26 406.84,430.88 414.15,428.26 421.46,446.60 428.77,447.91 436.08,447.91 443.38,438.74 450.69,445.29 458.00,436.12" fill="none" stroke="#1b8fa8" stroke-width="1.90" stroke-linejoin="round"/>
<polyline points="282.60,415.16 289.91,426.95 297.22,420.40 304.53,437.43 311.83,430.88 319.14,428.26 326.45,446.60 333.76,450.53 341.07,433.50 348.38,420.40 355.68,441.36 362.99,443.98 370.30,425.64 377.61,426.95 384.92,405.99 392.23,428.26 399.53,430.88 406.84,438.74 414.15,433.50 421.46,438.74 428.77,438.74 436.08,441.36 443.38,436.12 450.69,433.50 458.00,415.16" fill="none" stroke="#5b1f6b" stroke-width="1.90" stroke-linejoin="round"/>
<polyline points="282.60,415.16 289.91,415.16 297.22,423.02 304.53,417.78 311.83,425.64 319.14,423.02 326.45,423.02 333.76,408.61 341.07,408.61 348.38,405.99 355.68,409.92 362.99,423.02 370.30,423.02 377.61,421.71 384.92,420.40 392.23,415.16 399.53,423.02 406.84,421.71 414.15,409.92 421.46,420.40 428.77,421.71 436.08,421.71 443.38,420.40 450.69,412.54 458.00,423.02" fill="none" stroke="#8b8b2b" stroke-width="1.90" stroke-linejoin="round"/>
<polyline points="282.60,446.60 289.91,447.91 297.22,436.12 304.53,447.91 311.83,438.74 319.14,407.30 326.45,428.26 333.76,438.74 341.07,443.98 348.38,423.02 355.68,438.74 362.99,420.40 370.30,445.29 377.61,441.36 384.92,441.36 392.23,433.50 399.53,446.60 406.84,441.36 414.15,428.26 421.46,445.29 428.77,441.36 436.08,441.36 443.38,443.98 450.69,407.30 458.00,404.68" fill="none" stroke="#39b54a" stroke-width="1.90" stroke-linejoin="round"/>
<line x1="282.60" y1="380.30" x2="282.60" y2="460.70" stroke="#000" stroke-width="2.60"/>
<line x1="278.90" y1="459.70" x2="282.60" y2="459.70" stroke="#000" stroke-width="2.10"/>
<line x1="278.90" y1="433.50" x2="282.60" y2="433.50" stroke="#000" stroke-width="2.10"/>
<line x1="278.90" y1="407.30" x2="282.60" y2="407.30" stroke="#000" stroke-width="2.10"/>
<line x1="278.90" y1="381.10" x2="282.60" y2="381.10" stroke="#000" stroke-width="2.10"/>
<text x="271.00" y="462.90" font-size="10.00" text-anchor="middle" textLength="5.84" lengthAdjust="spacingAndGlyphs" stroke="#231f20">0</text>
<text x="271.00" y="436.70" font-size="10.00" text-anchor="middle" textLength="11.68" lengthAdjust="spacingAndGlyphs" stroke="#231f20">10</text>
<text x="271.00" y="410.50" font-size="10.00" text-anchor="middle" textLength="11.68" lengthAdjust="spacingAndGlyphs" stroke="#231f20">20</text>
<text x="271.00" y="384.30" font-size="10.00" text-anchor="middle" textLength="11.68" lengthAdjust="spacingAndGlyphs" stroke="#231f20">30</text>
<line x1="281.30" y1="459.70" x2="459.30" y2="459.70" stroke="#000" stroke-width="2.40"/>
<line x1="282.60" y1="459.70" x2="282.60" y2="463.20" stroke="#000" stroke-width="2.20"/>
<line x1="326.45" y1="459.70" x2="326.45" y2="463.20" stroke="#000" stroke-width="2.20"/>
<line x1="370.30" y1="459.70" x2="370.30" y2="463.20" stroke="#000" stroke-width="2.20"/>
<line x1="414.15" y1="459.70" x2="414.15" y2="463.20" stroke="#000" stroke-width="2.20"/>
<line x1="458.00" y1="459.70" x2="458.00" y2="463.20" stroke="#000" stroke-width="2.20"/>
<text x="270.50" y="473.75" font-size="10.00" textLength="22.76" lengthAdjust="spacingAndGlyphs" stroke="#231f20">0min</text>
<text x="312.00" y="473.75" font-size="10.00" textLength="28.60" lengthAdjust="spacingAndGlyphs" stroke="#231f20">30min</text>
<text x="355.00" y="473.75" font-size="10.00" textLength="28.60" lengthAdjust="spacingAndGlyphs" stroke="#231f20">60min</text>
<text x="399.50" y="473.75" font-size="10.00" textLength="28.60" lengthAdjust="spacingAndGlyphs" stroke="#231f20">90min</text>
<text x="441.75" y="473.75" font-size="10.00" textLength="34.44" lengthAdjust="spacingAndGlyphs" stroke="#231f20">120min</text>
<text transform="translate(259.15 420.60) rotate(-90)" font-size="11.00" font-weight="bold" text-anchor="middle" textLength="84.00" lengthAdjust="spacingAndGlyphs" stroke="#231f20">Firing rates (Hz)</text>
<polyline points="282.30,617.79 289.62,617.79 296.94,618.05 304.26,617.79 311.58,617.52 318.90,617.79 326.23,618.05 333.55,617.79 340.87,617.79 348.19,617.79 355.51,618.05 362.83,617.79 370.15,617.52 377.47,617.79 384.79,617.79 392.11,617.79 399.43,618.05 406.75,617.79 414.08,617.79 421.40,617.79 428.72,617.79 436.04,617.79 443.36,617.79 450.68,617.79 458.00,617.79" fill="none" stroke="#8b1a1a" stroke-width="1.90" stroke-linejoin="round"/>
<polyline points="282.30,616.47 289.62,616.47 296.94,616.47 304.26,615.16 311.58,615.16 318.90,615.16 326.23,615.16 333.55,616.47 340.87,616.47 348.19,617.79 355.51,612.53 362.83,613.85 370.15,613.85 377.47,616.47 384.79,615.16 392.11,616.47 399.43,615.16 406.75,615.16 414.08,616.47 421.40,616.47 428.72,616.47 436.04,616.47 443.36,616.47" fill="none" stroke="#39b54a" stroke-width="1.90" stroke-linejoin="round"/>
<polyline points="282.30,613.85 289.62,613.85 296.94,613.85 304.26,613.85 311.58,612.53 318.90,612.53 326.23,611.22 333.55,612.53 340.87,612.53 348.19,613.85 355.51,613.85 362.83,613.85 370.15,613.85 377.47,613.85 384.79,613.85 392.11,613.85 399.43,611.22 406.75,611.22 414.08,611.22 421.40,609.91 428.72,609.91 436.04,609.91 443.36,609.91 450.68,609.91 458.00,609.91" fill="none" stroke="#4a6fa5" stroke-width="1.90" stroke-linejoin="round"/>
<polyline points="282.30,611.22 289.62,612.53 296.94,613.85 304.26,611.22 311.58,611.22 318.90,611.22 326.23,611.22 333.55,612.53 340.87,612.53 348.19,613.85 355.51,613.85 362.83,613.85 370.15,613.85 377.47,613.85 384.79,613.85 392.11,611.22 399.43,611.22 406.75,608.59 414.08,611.22 421.40,613.85 428.72,613.85 436.04,613.85 443.36,608.59 450.68,605.97 458.00,605.97" fill="none" stroke="#273a7a" stroke-width="1.90" stroke-linejoin="round"/>
<polyline points="282.30,611.22 289.62,611.22 296.94,611.22 304.26,611.22 311.58,609.91 318.90,609.91 326.23,611.22 333.55,611.22 340.87,611.22 348.19,609.91 355.51,609.91 362.83,611.22 370.15,609.91 377.47,608.59 384.79,608.59 392.11,608.59 399.43,607.28 406.75,605.97 414.08,604.65 421.40,603.34 428.72,603.34 436.04,604.65 443.36,605.97 450.68,605.97 458.00,605.97" fill="none" stroke="#9e1f63" stroke-width="1.90" stroke-linejoin="round"/>
<polyline points="282.30,609.91 289.62,609.91 296.94,609.91 304.26,611.22 311.58,611.22 318.90,611.22 326.23,611.22 333.55,611.22 340.87,611.22 348.19,611.22 355.51,611.22 362.83,611.22 370.15,608.59 377.47,609.91 384.79,611.22 392.11,612.53 399.43,608.59 406.75,608.59 414.08,608.59 421.40,611.22 428.72,611.22 436.04,609.91 443.36,609.91 450.68,608.59 458.00,608.59" fill="none" stroke="#a0692b" stroke-width="1.90" stroke-linejoin="round"/>
<polyline points="282.30,608.59 289.62,609.91 296.94,611.22 304.26,602.03 311.58,611.22 318.90,609.91 326.23,608.59 333.55,609.91 340.87,611.22 348.19,611.22 355.51,611.22 362.83,609.91 370.15,611.22 377.47,609.91 384.79,611.22 392.11,611.22 399.43,609.91 406.75,596.77 414.08,609.91 421.40,611.22 428.72,611.22 436.04,611.22 443.36,609.91 450.68,609.91 458.00,609.91" fill="none" stroke="#f26522" stroke-width="1.90" stroke-linejoin="round"/>
<polyline points="282.30,604.65 289.62,607.28 296.94,607.28 304.26,605.97 311.58,605.97 318.90,603.34 326.23,602.03 333.55,608.59 340.87,605.97 348.19,604.65 355.51,603.34 362.83,599.40 370.15,599.40 377.47,602.03 384.79,603.34 392.11,605.97 399.43,605.97 406.75,605.97 414.08,605.97 421.40,605.97 428.72,605.97 436.04,605.97 443.36,605.97 450.68,607.28 458.00,608.59" fill="none" stroke="#5a5fc0" stroke-width="1.90" stroke-linejoin="round"/>
<polyline points="282.30,594.15 289.62,598.09 296.94,604.65 304.26,604.65 311.58,598.09 318.90,599.40 326.23,594.15 333.55,588.89 340.87,598.09 348.19,599.40 355.51,600.71 362.83,600.71 370.15,604.65 377.47,603.34 384.79,604.65 392.11,605.97 399.43,605.97 406.75,608.59 414.08,599.40 421.40,602.03 428.72,605.97 436.04,600.71 443.36,592.83 450.68,590.21 458.00,586.27" fill="none" stroke="#1b8fa8" stroke-width="1.90" stroke-linejoin="round"/>
<polyline points="282.30,608.59 289.62,608.59 296.94,605.97 304.26,574.45 311.58,605.97 318.90,608.59 326.23,608.59 333.55,599.40 340.87,602.03 348.19,598.09 355.51,607.28 362.83,579.70 370.15,607.28 377.47,605.97 384.79,600.71 392.11,578.39 399.43,587.58 406.75,595.46 414.08,608.59 421.40,594.15 428.72,608.59 436.04,605.97 443.36,582.33 450.68,608.59 458.00,605.97" fill="none" stroke="#5b1f6b" stroke-width="1.90" stroke-linejoin="round"/>
<polyline points="282.30,587.58 289.62,590.21 296.94,591.52 304.26,592.83 311.58,578.39 318.90,598.09 326.23,587.58 333.55,587.58 340.87,584.95 348.19,588.89 355.51,588.89 362.83,588.89 370.15,579.70 377.47,598.09 384.79,592.83 392.11,598.09 399.43,587.58 406.75,577.07 414.08,587.58 421.40,587.58 428.72,587.58 436.04,586.27" fill="none" stroke="#8b8b2b" stroke-width="1.90" stroke-linejoin="round"/>
<line x1="282.30" y1="539.50" x2="282.30" y2="620.10" stroke="#000" stroke-width="2.60"/>
<line x1="278.60" y1="619.10" x2="282.30" y2="619.10" stroke="#000" stroke-width="2.10"/>
<line x1="278.60" y1="592.83" x2="282.30" y2="592.83" stroke="#000" stroke-width="2.10"/>
<line x1="278.60" y1="566.57" x2="282.30" y2="566.57" stroke="#000" stroke-width="2.10"/>
<line x1="278.60" y1="540.30" x2="282.30" y2="540.30" stroke="#000" stroke-width="2.10"/>
<text x="271.00" y="622.30" font-size="10.00" text-anchor="middle" textLength="5.84" lengthAdjust="spacingAndGlyphs" stroke="#231f20">0</text>
<text x="271.00" y="596.03" font-size="10.00" text-anchor="middle" textLength="11.68" lengthAdjust="spacingAndGlyphs" stroke="#231f20">10</text>
<text x="271.00" y="569.77" font-size="10.00" text-anchor="middle" textLength="11.68" lengthAdjust="spacingAndGlyphs" stroke="#231f20">20</text>
<text x="271.00" y="543.50" font-size="10.00" text-anchor="middle" textLength="11.68" lengthAdjust="spacingAndGlyphs" stroke="#231f20">30</text>
<line x1="281.00" y1="619.10" x2="459.30" y2="619.10" stroke="#000" stroke-width="2.40"/>
<line x1="282.30" y1="619.10" x2="282.30" y2="622.60" stroke="#000" stroke-width="2.20"/>
<line x1="326.23" y1="619.10" x2="326.23" y2="622.60" stroke="#000" stroke-width="2.20"/>
<line x1="370.15" y1="619.10" x2="370.15" y2="622.60" stroke="#000" stroke-width="2.20"/>
<line x1="414.07" y1="619.10" x2="414.07" y2="622.60" stroke="#000" stroke-width="2.20"/>
<line x1="458.00" y1="619.10" x2="458.00" y2="622.60" stroke="#000" stroke-width="2.20"/>
<text x="275.00" y="633.00" font-size="10.00" textLength="22.76" lengthAdjust="spacingAndGlyphs" stroke="#231f20">0min</text>
<text x="317.00" y="633.00" font-size="10.00" textLength="28.60" lengthAdjust="spacingAndGlyphs" stroke="#231f20">30min</text>
<text x="360.00" y="633.00" font-size="10.00" textLength="28.60" lengthAdjust="spacingAndGlyphs" stroke="#231f20">60min</text>
<text x="404.50" y="633.00" font-size="10.00" textLength="28.60" lengthAdjust="spacingAndGlyphs" stroke="#231f20">90min</text>
<text x="447.00" y="633.00" font-size="10.00" textLength="34.44" lengthAdjust="spacingAndGlyphs" stroke="#231f20">120min</text>
<text transform="translate(259.15 580.90) rotate(-90)" font-size="11.00" font-weight="bold" text-anchor="middle" textLength="84.00" lengthAdjust="spacingAndGlyphs" stroke="#231f20">Firing rates (Hz)</text>
<polygon points="510.6,131.8 518.0,134.0 525.4,135.5 532.8,136.0 540.2,136.2 547.6,123.3 555.0,136.9 562.4,133.5 569.8,130.8 577.2,132.3 584.6,134.3 592.0,135.1 599.4,133.5 606.8,135.8 614.2,138.8 621.6,135.1 629.0,134.8 636.4,136.5 643.8,131.9 651.2,137.1 658.6,137.8 666.0,136.2 673.4,138.1 680.8,138.2 688.2,139.1 688.2,141.5 680.8,140.6 673.4,140.5 666.0,138.6 658.6,140.2 651.2,139.5 643.8,134.9 636.4,138.9 629.0,137.2 621.6,137.5 614.2,141.2 606.8,138.2 599.4,135.9 592.0,137.5 584.6,136.7 577.2,134.7 569.8,133.2 562.4,136.5 555.0,140.5 547.6,133.3 540.2,139.2 532.8,139.0 525.4,138.5 518.0,138.0 510.6,138.2" fill="#8a8a8a"/>
<polyline points="510.60,135.00 518.00,136.00 525.40,137.00 532.81,137.50 540.21,137.70 547.61,128.30 555.01,138.70 562.41,135.00 569.82,132.00 577.22,133.50 584.62,135.50 592.02,136.30 599.42,134.70 606.83,137.00 614.23,140.00 621.63,136.30 629.03,136.00 636.44,137.70 643.84,133.40 651.24,138.30 658.64,139.00 666.04,137.40 673.45,139.30 680.85,139.40 688.25,140.30" fill="none" stroke="#000" stroke-width="3.40" stroke-linejoin="round"/>
<line x1="510.60" y1="66.00" x2="510.60" y2="151.70" stroke="#000" stroke-width="2.60"/>
<line x1="506.90" y1="151.30" x2="510.60" y2="151.30" stroke="#000" stroke-width="2.10"/>
<line x1="506.90" y1="123.90" x2="510.60" y2="123.90" stroke="#000" stroke-width="2.10"/>
<line x1="506.90" y1="95.70" x2="510.60" y2="95.70" stroke="#000" stroke-width="2.10"/>
<line x1="506.90" y1="67.30" x2="510.60" y2="67.30" stroke="#000" stroke-width="2.10"/>
<line x1="507.50" y1="138.00" x2="510.60" y2="138.00" stroke="#000" stroke-width="1.40"/>
<line x1="507.50" y1="109.60" x2="510.60" y2="109.60" stroke="#000" stroke-width="1.40"/>
<line x1="507.50" y1="81.00" x2="510.60" y2="81.00" stroke="#000" stroke-width="1.40"/>
<text x="503.00" y="154.60" font-size="10.00" text-anchor="end" textLength="5.84" lengthAdjust="spacingAndGlyphs" stroke="#231f20">0</text>
<text x="503.00" y="127.20" font-size="10.00" text-anchor="end" textLength="11.68" lengthAdjust="spacingAndGlyphs" stroke="#231f20">10</text>
<text x="503.00" y="99.00" font-size="10.00" text-anchor="end" textLength="11.68" lengthAdjust="spacingAndGlyphs" stroke="#231f20">20</text>
<line x1="509.30" y1="150.70" x2="689.55" y2="150.70" stroke="#000" stroke-width="2.40"/>
<line x1="510.60" y1="150.70" x2="510.60" y2="154.20" stroke="#000" stroke-width="2.20"/>
<line x1="555.01" y1="150.70" x2="555.01" y2="154.20" stroke="#000" stroke-width="2.20"/>
<line x1="599.42" y1="150.70" x2="599.42" y2="154.20" stroke="#000" stroke-width="2.20"/>
<line x1="643.84" y1="150.70" x2="643.84" y2="154.20" stroke="#000" stroke-width="2.20"/>
<line x1="688.25" y1="150.70" x2="688.25" y2="154.20" stroke="#000" stroke-width="2.20"/>
<text x="501.25" y="167.00" font-size="10.00" textLength="22.76" lengthAdjust="spacingAndGlyphs" stroke="#231f20">0min</text>
<text x="541.25" y="167.00" font-size="10.00" textLength="28.60" lengthAdjust="spacingAndGlyphs" stroke="#231f20">30min</text>
<text x="585.50" y="167.00" font-size="10.00" textLength="28.60" lengthAdjust="spacingAndGlyphs" stroke="#231f20">60min</text>
<text x="631.00" y="167.00" font-size="10.00" textLength="28.60" lengthAdjust="spacingAndGlyphs" stroke="#231f20">90min</text>
<text x="674.50" y="167.00" font-size="10.00" textLength="34.44" lengthAdjust="spacingAndGlyphs" stroke="#231f20">120min</text>
<text transform="translate(487.90 106.60) rotate(-90)" font-size="11.00" font-weight="bold" text-anchor="middle" textLength="84.00" lengthAdjust="spacingAndGlyphs" stroke="#231f20">Firing rates (Hz)</text>
<text x="503.20" y="58.00" font-size="10.80" text-anchor="end" textLength="12.01" lengthAdjust="spacingAndGlyphs" stroke="#231f20">30</text>
<polygon points="508.5,295.5 516.0,290.1 523.5,294.1 531.0,289.5 538.5,292.1 545.9,295.5 553.4,290.8 560.9,291.8 568.4,293.8 575.9,294.1 583.4,293.5 590.9,295.1 598.4,292.2 605.9,293.8 613.4,295.2 620.8,292.2 628.3,292.5 635.8,292.2 643.3,292.5 650.8,293.1 658.3,292.8 665.8,292.2 673.3,291.5 680.8,285.5 688.2,286.8 688.2,291.8 680.8,290.5 673.3,296.5 665.8,297.2 658.3,297.8 650.8,298.1 643.3,297.5 635.8,297.2 628.3,297.5 620.8,297.2 613.4,300.2 605.9,298.8 598.4,297.2 590.9,297.5 583.4,295.9 575.9,296.5 568.4,296.2 560.9,294.2 553.4,293.2 545.9,297.9 538.5,294.5 531.0,291.9 523.5,296.5 516.0,292.5 508.5,297.9" fill="#8a8a8a"/>
<polyline points="508.50,296.70 515.99,291.30 523.48,295.30 530.97,290.70 538.46,293.30 545.95,296.70 553.44,292.00 560.93,293.00 568.42,295.00 575.91,295.30 583.40,294.70 590.89,296.30 598.38,294.70 605.86,296.30 613.35,297.70 620.84,294.70 628.33,295.00 635.82,294.70 643.31,295.00 650.80,295.60 658.29,295.30 665.78,294.70 673.27,294.00 680.76,288.00 688.25,289.30" fill="none" stroke="#000" stroke-width="3.40" stroke-linejoin="round"/>
<line x1="508.40" y1="225.90" x2="508.40" y2="309.60" stroke="#000" stroke-width="2.60"/>
<line x1="504.70" y1="308.60" x2="508.40" y2="308.60" stroke="#000" stroke-width="2.10"/>
<line x1="504.70" y1="283.50" x2="508.40" y2="283.50" stroke="#000" stroke-width="2.10"/>
<line x1="504.70" y1="254.90" x2="508.40" y2="254.90" stroke="#000" stroke-width="2.10"/>
<line x1="504.70" y1="226.70" x2="508.40" y2="226.70" stroke="#000" stroke-width="2.10"/>
<line x1="505.30" y1="297.60" x2="508.40" y2="297.60" stroke="#000" stroke-width="1.40"/>
<line x1="505.30" y1="269.30" x2="508.40" y2="269.30" stroke="#000" stroke-width="1.40"/>
<line x1="505.30" y1="241.10" x2="508.40" y2="241.10" stroke="#000" stroke-width="1.40"/>
<text x="502.00" y="311.90" font-size="10.00" text-anchor="end" textLength="5.84" lengthAdjust="spacingAndGlyphs" stroke="#231f20">0</text>
<text x="502.00" y="286.80" font-size="10.00" text-anchor="end" textLength="11.68" lengthAdjust="spacingAndGlyphs" stroke="#231f20">10</text>
<text x="502.00" y="258.20" font-size="10.00" text-anchor="end" textLength="11.68" lengthAdjust="spacingAndGlyphs" stroke="#231f20">20</text>
<text x="502.00" y="230.00" font-size="10.00" text-anchor="end" textLength="11.68" lengthAdjust="spacingAndGlyphs" stroke="#231f20">30</text>
<line x1="507.10" y1="308.60" x2="689.55" y2="308.60" stroke="#000" stroke-width="2.40"/>
<line x1="508.40" y1="308.60" x2="508.40" y2="312.10" stroke="#000" stroke-width="2.20"/>
<line x1="553.36" y1="308.60" x2="553.36" y2="312.10" stroke="#000" stroke-width="2.20"/>
<line x1="598.33" y1="308.60" x2="598.33" y2="312.10" stroke="#000" stroke-width="2.20"/>
<line x1="643.29" y1="308.60" x2="643.29" y2="312.10" stroke="#000" stroke-width="2.20"/>
<line x1="688.25" y1="308.60" x2="688.25" y2="312.10" stroke="#000" stroke-width="2.20"/>
<text x="497.00" y="322.50" font-size="10.00" textLength="22.76" lengthAdjust="spacingAndGlyphs" stroke="#231f20">0min</text>
<text x="539.50" y="322.50" font-size="10.00" textLength="28.60" lengthAdjust="spacingAndGlyphs" stroke="#231f20">30min</text>
<text x="584.25" y="322.50" font-size="10.00" textLength="28.60" lengthAdjust="spacingAndGlyphs" stroke="#231f20">60min</text>
<text x="629.50" y="322.50" font-size="10.00" textLength="28.60" lengthAdjust="spacingAndGlyphs" stroke="#231f20">90min</text>
<text x="672.75" y="322.50" font-size="10.00" textLength="34.44" lengthAdjust="spacingAndGlyphs" stroke="#231f20">120min</text>
<text transform="translate(489.15 263.10) rotate(-90)" font-size="11.00" font-weight="bold" text-anchor="middle" textLength="84.00" lengthAdjust="spacingAndGlyphs" stroke="#231f20">Firing rates (Hz)</text>
<polygon points="508.3,437.8 515.8,437.1 523.2,436.4 530.7,437.1 538.2,438.1 545.7,435.7 553.1,437.4 560.6,439.1 568.1,436.1 575.6,432.4 583.1,435.4 590.5,435.4 598.0,435.4 605.5,436.7 613.0,431.4 620.4,434.7 627.9,436.1 635.4,437.4 642.9,437.8 650.3,440.1 657.8,440.4 665.3,439.8 672.8,436.7 680.2,434.1 687.7,433.8 687.7,443.0 680.2,443.3 672.8,445.9 665.3,449.0 657.8,449.6 650.3,449.3 642.9,447.0 635.4,446.6 627.9,445.3 620.4,443.9 613.0,440.6 605.5,445.9 598.0,444.6 590.5,444.6 583.1,444.6 575.6,441.6 568.1,445.3 560.6,448.3 553.1,446.6 545.7,444.9 538.2,447.3 530.7,446.3 523.2,445.6 515.8,446.3 508.3,447.0" fill="#8a8a8a"/>
<polyline points="508.30,442.40 515.77,441.70 523.25,441.00 530.73,441.70 538.20,442.70 545.68,440.30 553.15,442.00 560.62,443.70 568.10,440.70 575.58,437.00 583.05,440.00 590.52,440.00 598.00,440.00 605.48,441.30 612.95,436.00 620.43,439.30 627.90,440.70 635.38,442.00 642.85,442.40 650.33,444.70 657.80,445.00 665.28,444.40 672.75,441.30 680.23,438.70 687.70,438.40" fill="none" stroke="#000" stroke-width="3.40" stroke-linejoin="round"/>
<line x1="508.60" y1="381.20" x2="508.60" y2="465.40" stroke="#000" stroke-width="2.60"/>
<line x1="504.90" y1="464.40" x2="508.60" y2="464.40" stroke="#000" stroke-width="2.10"/>
<line x1="504.90" y1="438.90" x2="508.60" y2="438.90" stroke="#000" stroke-width="2.10"/>
<line x1="504.90" y1="410.40" x2="508.60" y2="410.40" stroke="#000" stroke-width="2.10"/>
<line x1="504.90" y1="382.00" x2="508.60" y2="382.00" stroke="#000" stroke-width="2.10"/>
<line x1="505.50" y1="453.10" x2="508.60" y2="453.10" stroke="#000" stroke-width="1.40"/>
<line x1="505.50" y1="424.80" x2="508.60" y2="424.80" stroke="#000" stroke-width="1.40"/>
<line x1="505.50" y1="396.40" x2="508.60" y2="396.40" stroke="#000" stroke-width="1.40"/>
<text x="502.00" y="467.70" font-size="10.00" text-anchor="end" textLength="5.84" lengthAdjust="spacingAndGlyphs" stroke="#231f20">0</text>
<text x="502.00" y="442.20" font-size="10.00" text-anchor="end" textLength="11.68" lengthAdjust="spacingAndGlyphs" stroke="#231f20">10</text>
<text x="502.00" y="413.70" font-size="10.00" text-anchor="end" textLength="11.68" lengthAdjust="spacingAndGlyphs" stroke="#231f20">20</text>
<text x="502.00" y="385.30" font-size="10.00" text-anchor="end" textLength="11.68" lengthAdjust="spacingAndGlyphs" stroke="#231f20">30</text>
<line x1="507.30" y1="464.40" x2="689.00" y2="464.40" stroke="#000" stroke-width="2.40"/>
<line x1="508.60" y1="464.40" x2="508.60" y2="467.90" stroke="#000" stroke-width="2.20"/>
<line x1="553.38" y1="464.40" x2="553.38" y2="467.90" stroke="#000" stroke-width="2.20"/>
<line x1="598.15" y1="464.40" x2="598.15" y2="467.90" stroke="#000" stroke-width="2.20"/>
<line x1="642.93" y1="464.40" x2="642.93" y2="467.90" stroke="#000" stroke-width="2.20"/>
<line x1="687.70" y1="464.40" x2="687.70" y2="467.90" stroke="#000" stroke-width="2.20"/>
<text x="496.25" y="477.50" font-size="10.00" textLength="22.76" lengthAdjust="spacingAndGlyphs" stroke="#231f20">0min</text>
<text x="538.75" y="477.50" font-size="10.00" textLength="28.60" lengthAdjust="spacingAndGlyphs" stroke="#231f20">30min</text>
<text x="583.00" y="477.50" font-size="10.00" textLength="28.60" lengthAdjust="spacingAndGlyphs" stroke="#231f20">60min</text>
<text x="628.00" y="477.50" font-size="10.00" textLength="28.60" lengthAdjust="spacingAndGlyphs" stroke="#231f20">90min</text>
<text x="671.50" y="477.50" font-size="10.00" textLength="34.44" lengthAdjust="spacingAndGlyphs" stroke="#231f20">120min</text>
<text transform="translate(487.90 420.00) rotate(-90)" font-size="11.00" font-weight="bold" text-anchor="middle" textLength="84.00" lengthAdjust="spacingAndGlyphs" stroke="#231f20">Firing rates (Hz)</text>
<polygon points="507.9,608.9 515.4,610.0 522.8,611.3 530.3,607.2 537.8,606.8 545.2,612.0 552.7,609.1 560.1,608.8 567.6,610.3 575.1,610.7 582.5,611.0 590.0,608.2 597.5,610.0 604.9,611.6 612.4,610.7 619.8,608.8 627.3,607.6 634.8,604.5 642.2,608.8 649.7,609.1 657.1,611.3 664.6,609.1 672.1,604.8 679.5,609.5 687.0,609.8 687.0,614.2 679.5,613.9 672.1,609.8 664.6,613.5 657.1,615.3 649.7,613.5 642.2,613.2 634.8,610.1 627.3,613.2 619.8,613.2 612.4,614.7 604.9,615.6 597.5,614.0 590.0,613.2 582.5,615.0 575.1,614.7 567.6,614.3 560.1,613.2 552.7,613.5 545.2,616.0 537.8,612.4 530.3,612.8 522.8,615.3 515.4,614.0 507.9,612.9" fill="#8a8a8a"/>
<polyline points="507.90,610.90 515.36,612.00 522.82,613.30 530.29,610.00 537.75,609.60 545.21,614.00 552.67,611.30 560.14,611.00 567.60,612.30 575.06,612.70 582.52,613.00 589.99,610.70 597.45,612.00 604.91,613.60 612.38,612.70 619.84,611.00 627.30,610.40 634.76,607.30 642.23,611.00 649.69,611.30 657.15,613.30 664.61,611.30 672.08,607.30 679.54,611.70 687.00,612.00" fill="none" stroke="#000" stroke-width="3.40" stroke-linejoin="round"/>
<line x1="508.10" y1="538.80" x2="508.10" y2="622.80" stroke="#000" stroke-width="2.60"/>
<line x1="504.40" y1="619.20" x2="508.10" y2="619.20" stroke="#000" stroke-width="2.10"/>
<line x1="504.40" y1="596.40" x2="508.10" y2="596.40" stroke="#000" stroke-width="2.10"/>
<line x1="504.40" y1="568.40" x2="508.10" y2="568.40" stroke="#000" stroke-width="2.10"/>
<line x1="504.40" y1="539.60" x2="508.10" y2="539.60" stroke="#000" stroke-width="2.10"/>
<line x1="505.00" y1="610.50" x2="508.10" y2="610.50" stroke="#000" stroke-width="1.40"/>
<line x1="505.00" y1="582.30" x2="508.10" y2="582.30" stroke="#000" stroke-width="1.40"/>
<line x1="505.00" y1="554.00" x2="508.10" y2="554.00" stroke="#000" stroke-width="1.40"/>
<text x="501.40" y="622.50" font-size="10.00" text-anchor="end" textLength="5.84" lengthAdjust="spacingAndGlyphs" stroke="#231f20">0</text>
<text x="501.40" y="599.70" font-size="10.00" text-anchor="end" textLength="11.68" lengthAdjust="spacingAndGlyphs" stroke="#231f20">10</text>
<text x="501.40" y="571.70" font-size="10.00" text-anchor="end" textLength="11.68" lengthAdjust="spacingAndGlyphs" stroke="#231f20">20</text>
<text x="501.40" y="542.90" font-size="10.00" text-anchor="end" textLength="11.68" lengthAdjust="spacingAndGlyphs" stroke="#231f20">30</text>
<line x1="506.80" y1="621.80" x2="688.30" y2="621.80" stroke="#000" stroke-width="2.40"/>
<line x1="508.10" y1="621.80" x2="508.10" y2="625.30" stroke="#000" stroke-width="2.20"/>
<line x1="552.83" y1="621.80" x2="552.83" y2="625.30" stroke="#000" stroke-width="2.20"/>
<line x1="597.55" y1="621.80" x2="597.55" y2="625.30" stroke="#000" stroke-width="2.20"/>
<line x1="642.27" y1="621.80" x2="642.27" y2="625.30" stroke="#000" stroke-width="2.20"/>
<line x1="687.00" y1="621.80" x2="687.00" y2="625.30" stroke="#000" stroke-width="2.20"/>
<text x="500.50" y="634.25" font-size="10.00" textLength="22.76" lengthAdjust="spacingAndGlyphs" stroke="#231f20">0min</text>
<text x="543.25" y="634.25" font-size="10.00" textLength="28.60" lengthAdjust="spacingAndGlyphs" stroke="#231f20">30min</text>
<text x="587.50" y="634.25" font-size="10.00" textLength="28.60" lengthAdjust="spacingAndGlyphs" stroke="#231f20">60min</text>
<text x="632.00" y="634.25" font-size="10.00" textLength="28.60" lengthAdjust="spacingAndGlyphs" stroke="#231f20">90min</text>
<text x="675.50" y="634.25" font-size="10.00" textLength="34.44" lengthAdjust="spacingAndGlyphs" stroke="#231f20">120min</text>
<text transform="translate(487.90 581.90) rotate(-90)" font-size="11.00" font-weight="bold" text-anchor="middle" textLength="84.00" lengthAdjust="spacingAndGlyphs" stroke="#231f20">Firing rates (Hz)</text>
<text x="3.80" y="693.40" font-size="12.50" font-weight="bold" stroke="#231f20">E</text>
<line x1="45.80" y1="720.50" x2="45.80" y2="894.20" stroke="#000" stroke-width="1.80"/>
<line x1="38.50" y1="894.20" x2="45.80" y2="894.20" stroke="#000" stroke-width="1.60"/>
<text x="26.60" y="898.70" font-size="10.60" text-anchor="middle" textLength="6.13" lengthAdjust="spacingAndGlyphs" stroke="#231f20">0</text>
<line x1="38.50" y1="850.78" x2="45.80" y2="850.78" stroke="#000" stroke-width="1.60"/>
<text x="26.60" y="854.78" font-size="10.60" text-anchor="middle" textLength="6.13" lengthAdjust="spacingAndGlyphs" stroke="#231f20">5</text>
<line x1="38.50" y1="807.35" x2="45.80" y2="807.35" stroke="#000" stroke-width="1.60"/>
<text x="26.60" y="809.25" font-size="10.60" text-anchor="middle" textLength="12.26" lengthAdjust="spacingAndGlyphs" stroke="#231f20">10</text>
<line x1="38.50" y1="763.92" x2="45.80" y2="763.92" stroke="#000" stroke-width="1.60"/>
<text x="26.60" y="765.42" font-size="10.60" text-anchor="middle" textLength="12.26" lengthAdjust="spacingAndGlyphs" stroke="#231f20">15</text>
<line x1="38.50" y1="720.50" x2="45.80" y2="720.50" stroke="#000" stroke-width="1.60"/>
<text x="26.60" y="723.20" font-size="10.60" text-anchor="middle" textLength="12.26" lengthAdjust="spacingAndGlyphs" stroke="#231f20">20</text>
<line x1="38.50" y1="894.20" x2="264.60" y2="894.20" stroke="#000" stroke-width="2.30"/>
<rect x="62.00" y="844.25" width="34.00" height="49.95" fill="#f39a0e"/>
<line x1="79.00" y1="839.60" x2="79.00" y2="844.25" stroke="#f39a0e" stroke-width="1.80"/>
<line x1="70.30" y1="839.60" x2="87.70" y2="839.60" stroke="#f39a0e" stroke-width="1.80"/>
<line x1="79.00" y1="894.20" x2="79.00" y2="901.60" stroke="#000" stroke-width="1.80"/>
<text x="53.80" y="914.50" font-size="11.00" textLength="50.40" lengthAdjust="spacingAndGlyphs" stroke="#231f20">Metestrus</text>
<rect x="112.40" y="842.30" width="33.60" height="51.90" fill="#1e2484"/>
<line x1="129.20" y1="836.80" x2="129.20" y2="842.30" stroke="#1e2484" stroke-width="1.80"/>
<line x1="120.80" y1="836.80" x2="137.90" y2="836.80" stroke="#1e2484" stroke-width="1.80"/>
<line x1="129.20" y1="894.20" x2="129.20" y2="901.60" stroke="#000" stroke-width="1.80"/>
<text x="113.90" y="914.50" font-size="11.00" textLength="42.10" lengthAdjust="spacingAndGlyphs" stroke="#231f20">Diestrus</text>
<rect x="162.90" y="815.60" width="33.60" height="78.60" fill="#078f50"/>
<line x1="179.70" y1="805.90" x2="179.70" y2="815.60" stroke="#078f50" stroke-width="1.80"/>
<line x1="171.70" y1="805.90" x2="187.70" y2="805.90" stroke="#078f50" stroke-width="1.80"/>
<line x1="179.70" y1="894.20" x2="179.70" y2="901.60" stroke="#000" stroke-width="1.80"/>
<text x="164.20" y="914.50" font-size="11.00" textLength="48.80" lengthAdjust="spacingAndGlyphs" stroke="#231f20">Proestrus</text>
<rect x="214.70" y="856.40" width="30.80" height="37.80" fill="#e0e0e0" stroke="#000" stroke-width="2.8"/>
<line x1="230.10" y1="847.20" x2="230.10" y2="855.00" stroke="#000" stroke-width="1.80"/>
<line x1="222.20" y1="847.20" x2="238.10" y2="847.20" stroke="#000" stroke-width="1.80"/>
<line x1="230.10" y1="894.20" x2="230.10" y2="901.60" stroke="#000" stroke-width="1.80"/>
<text x="220.80" y="914.50" font-size="11.00" textLength="30.80" lengthAdjust="spacingAndGlyphs" stroke="#231f20">Estrus</text>
<circle cx="79.13" cy="824.40" r="2.75" fill="#000"/>
<circle cx="73.89" cy="831.84" r="2.75" fill="#000"/>
<circle cx="84.09" cy="831.84" r="2.75" fill="#000"/>
<circle cx="68.93" cy="839.01" r="2.75" fill="#000"/>
<circle cx="89.61" cy="843.70" r="2.75" fill="#000"/>
<circle cx="79.13" cy="845.90" r="2.75" fill="#000"/>
<circle cx="68.38" cy="861.62" r="2.75" fill="#000"/>
<circle cx="79.13" cy="859.69" r="2.75" fill="#000"/>
<circle cx="89.61" cy="861.62" r="2.75" fill="#000"/>
<circle cx="128.95" cy="820.81" r="2.75" fill="#000"/>
<circle cx="123.99" cy="829.36" r="2.75" fill="#000"/>
<circle cx="134.46" cy="827.15" r="2.75" fill="#000"/>
<circle cx="118.47" cy="840.11" r="2.75" fill="#000"/>
<circle cx="139.98" cy="840.11" r="2.75" fill="#000"/>
<circle cx="128.95" cy="845.08" r="2.75" fill="#000"/>
<circle cx="139.98" cy="851.42" r="2.75" fill="#000"/>
<circle cx="128.95" cy="856.66" r="2.75" fill="#000"/>
<circle cx="128.95" cy="867.41" r="2.75" fill="#000"/>
<circle cx="179.40" cy="759.61" r="2.75" fill="#000"/>
<circle cx="179.40" cy="789.38" r="2.75" fill="#000"/>
<circle cx="165.34" cy="807.30" r="2.75" fill="#000"/>
<circle cx="174.99" cy="811.71" r="2.75" fill="#000"/>
<circle cx="184.64" cy="804.27" r="2.75" fill="#000"/>
<circle cx="184.64" cy="810.61" r="2.75" fill="#000"/>
<circle cx="194.02" cy="804.27" r="2.75" fill="#000"/>
<circle cx="194.02" cy="812.54" r="2.75" fill="#000"/>
<circle cx="174.99" cy="849.49" r="2.75" fill="#000"/>
<circle cx="184.64" cy="849.76" r="2.75" fill="#000"/>
<circle cx="179.40" cy="870.44" r="2.75" fill="#000"/>
<circle cx="229.86" cy="793.52" r="2.75" fill="#000"/>
<circle cx="224.62" cy="829.91" r="2.75" fill="#000"/>
<circle cx="235.10" cy="830.46" r="2.75" fill="#000"/>
<circle cx="219.38" cy="855.28" r="2.75" fill="#000"/>
<circle cx="229.86" cy="851.97" r="2.75" fill="#000"/>
<circle cx="240.61" cy="856.66" r="2.75" fill="#000"/>
<circle cx="219.38" cy="862.17" r="2.75" fill="#000"/>
<circle cx="240.61" cy="864.93" r="2.75" fill="#000"/>
<circle cx="229.86" cy="866.31" r="2.75" fill="#000"/>
<circle cx="229.86" cy="874.58" r="2.75" fill="#000"/>
<circle cx="235.10" cy="884.50" r="2.75" fill="#000"/>
<circle cx="224.62" cy="888.64" r="2.75" fill="#000"/>
<polyline points="80.8,738.3 80.8,729.7 175.3,729.7 175.3,738.3" fill="none" stroke="#000" stroke-width="2.6"/>
<polyline points="186.5,738.3 186.5,729.6 229.6,729.6 229.6,738.3" fill="none" stroke="#000" stroke-width="2.6"/>
<text x="128.70" y="726.50" font-size="21.00" font-weight="bold" text-anchor="middle" stroke="#231f20">*</text>
<text x="202.20" y="724.30" font-size="21.00" font-weight="bold" text-anchor="middle" stroke="#231f20">*</text>
<text x="214.40" y="724.30" font-size="21.00" font-weight="bold" text-anchor="middle" stroke="#231f20">*</text>
<text transform="translate(13.15 803.10) rotate(-90)" font-size="11.50" text-anchor="middle" textLength="93.00" lengthAdjust="spacingAndGlyphs" stroke="#231f20">Firing rates ( Hz)</text>
<text x="279.50" y="694.60" font-size="12.50" font-weight="bold" stroke="#231f20">F</text>
<line x1="328.50" y1="711.80" x2="328.50" y2="792.40" stroke="#000" stroke-width="2.60"/>
<line x1="324.50" y1="712.60" x2="328.50" y2="712.60" stroke="#000" stroke-width="1.60"/>
<text x="322.80" y="715.80" font-size="10.90" text-anchor="end" textLength="21.00" lengthAdjust="spacingAndGlyphs" stroke="#231f20">0.08</text>
<line x1="324.50" y1="728.40" x2="328.50" y2="728.40" stroke="#000" stroke-width="1.60"/>
<text x="322.80" y="731.60" font-size="10.90" text-anchor="end" textLength="21.00" lengthAdjust="spacingAndGlyphs" stroke="#231f20">0.04</text>
<line x1="324.50" y1="744.20" x2="328.50" y2="744.20" stroke="#000" stroke-width="1.60"/>
<text x="322.80" y="747.40" font-size="10.90" text-anchor="end" textLength="21.00" lengthAdjust="spacingAndGlyphs" stroke="#231f20">0.00</text>
<line x1="324.50" y1="760.00" x2="328.50" y2="760.00" stroke="#000" stroke-width="1.60"/>
<text x="324.00" y="763.20" font-size="10.90" text-anchor="end" textLength="24.60" lengthAdjust="spacingAndGlyphs" stroke="#231f20">-0.04</text>
<line x1="324.50" y1="775.80" x2="328.50" y2="775.80" stroke="#000" stroke-width="1.60"/>
<text x="324.00" y="779.00" font-size="10.90" text-anchor="end" textLength="24.60" lengthAdjust="spacingAndGlyphs" stroke="#231f20">-0.08</text>
<line x1="324.50" y1="791.60" x2="328.50" y2="791.60" stroke="#000" stroke-width="1.60"/>
<text x="324.00" y="794.80" font-size="10.90" text-anchor="end" textLength="24.60" lengthAdjust="spacingAndGlyphs" stroke="#231f20">-0.12</text>
<rect x="330.00" y="745.30" width="2.6" height="1.5" fill="#000"/>
<rect x="339.52" y="745.30" width="2.6" height="1.5" fill="#000"/>
<rect x="349.04" y="745.30" width="2.6" height="1.5" fill="#000"/>
<rect x="358.56" y="745.30" width="2.6" height="1.5" fill="#000"/>
<rect x="368.08" y="745.30" width="2.6" height="1.5" fill="#000"/>
<rect x="377.60" y="745.30" width="2.6" height="1.5" fill="#000"/>
<rect x="387.12" y="745.30" width="2.6" height="1.5" fill="#000"/>
<rect x="396.64" y="745.30" width="2.6" height="1.5" fill="#000"/>
<rect x="406.16" y="745.30" width="2.6" height="1.5" fill="#000"/>
<rect x="415.68" y="745.30" width="2.6" height="1.5" fill="#000"/>
<rect x="425.20" y="745.30" width="2.6" height="1.5" fill="#000"/>
<rect x="434.72" y="745.30" width="2.6" height="1.5" fill="#000"/>
<rect x="444.24" y="745.30" width="2.6" height="1.5" fill="#000"/>
<rect x="453.76" y="745.30" width="2.6" height="1.5" fill="#000"/>
<rect x="463.28" y="745.30" width="2.6" height="1.5" fill="#000"/>
<line x1="378.90" y1="744.20" x2="378.90" y2="747.80" stroke="#000" stroke-width="2.00"/>
<line x1="426.50" y1="744.20" x2="426.50" y2="747.80" stroke="#000" stroke-width="2.00"/>
<line x1="474.50" y1="744.20" x2="474.50" y2="747.80" stroke="#000" stroke-width="2.00"/>
<line x1="328.50" y1="744.20" x2="475.50" y2="744.20" stroke="#000" stroke-width="2.30"/>
<text x="372.80" y="758.00" font-size="10.20" textLength="14.89" lengthAdjust="spacingAndGlyphs" stroke="#231f20">0.5</text>
<text x="421.20" y="758.00" font-size="10.20" textLength="14.89" lengthAdjust="spacingAndGlyphs" stroke="#231f20">1.0</text>
<text x="470.00" y="758.00" font-size="10.20" textLength="14.89" lengthAdjust="spacingAndGlyphs" stroke="#231f20">1.5</text>
<text x="385.20" y="779.80" font-size="12.00" font-weight="bold" textLength="52.10" lengthAdjust="spacingAndGlyphs" stroke="#231f20">Time (ms)</text>
<text x="366.90" y="704.70" font-size="12.00" font-weight="bold" textLength="53.40" lengthAdjust="spacingAndGlyphs" stroke="#231f20">Metestrus</text>
<text transform="translate(296.50 750.30) rotate(-90)" font-size="10.60" font-weight="bold" text-anchor="middle" textLength="102.50" lengthAdjust="spacingAndGlyphs" stroke="#231f20">Waveform value (mV)</text>
<path d="M328.20,743.50 C331.18,743.75 342.07,744.53 346.10,745.00 C350.13,745.47 350.30,745.07 352.40,746.30 C354.50,747.53 356.95,749.80 358.70,752.40 C360.45,755.00 361.67,758.92 362.90,761.90 C364.13,764.88 365.22,768.30 366.10,770.30 C366.98,772.30 367.85,773.30 368.20,773.90 C368.55,773.30 369.42,772.30 370.30,770.30 C371.18,768.30 372.27,764.88 373.50,761.90 C374.73,758.92 376.13,755.22 377.70,752.40 C379.27,749.58 381.15,746.93 382.90,745.00 C384.65,743.07 385.92,742.10 388.20,740.80 C390.48,739.50 393.08,738.08 396.60,737.20 C400.12,736.32 405.43,735.60 409.30,735.50 C413.17,735.40 414.53,735.97 419.80,736.60 C425.07,737.23 433.88,738.42 440.90,739.30 C447.92,740.18 458.40,741.47 461.90,741.90" fill="none" stroke="#000" stroke-width="2.6" stroke-linejoin="round" stroke-linecap="butt"/>
<line x1="531.20" y1="712.00" x2="531.20" y2="792.60" stroke="#000" stroke-width="2.60"/>
<line x1="527.20" y1="712.80" x2="531.20" y2="712.80" stroke="#000" stroke-width="1.60"/>
<text x="528.00" y="716.00" font-size="10.90" text-anchor="end" textLength="21.00" lengthAdjust="spacingAndGlyphs" stroke="#231f20">0.08</text>
<line x1="527.20" y1="728.60" x2="531.20" y2="728.60" stroke="#000" stroke-width="1.60"/>
<text x="528.00" y="731.80" font-size="10.90" text-anchor="end" textLength="21.00" lengthAdjust="spacingAndGlyphs" stroke="#231f20">0.04</text>
<line x1="527.20" y1="744.40" x2="531.20" y2="744.40" stroke="#000" stroke-width="1.60"/>
<text x="528.00" y="747.60" font-size="10.90" text-anchor="end" textLength="21.00" lengthAdjust="spacingAndGlyphs" stroke="#231f20">0.00</text>
<line x1="527.20" y1="760.20" x2="531.20" y2="760.20" stroke="#000" stroke-width="1.60"/>
<text x="529.20" y="763.40" font-size="10.90" text-anchor="end" textLength="24.60" lengthAdjust="spacingAndGlyphs" stroke="#231f20">-0.04</text>
<line x1="527.20" y1="776.00" x2="531.20" y2="776.00" stroke="#000" stroke-width="1.60"/>
<text x="529.20" y="779.20" font-size="10.90" text-anchor="end" textLength="24.60" lengthAdjust="spacingAndGlyphs" stroke="#231f20">-0.08</text>
<line x1="527.20" y1="791.80" x2="531.20" y2="791.80" stroke="#000" stroke-width="1.60"/>
<text x="529.20" y="795.00" font-size="10.90" text-anchor="end" textLength="24.60" lengthAdjust="spacingAndGlyphs" stroke="#231f20">-0.12</text>
<rect x="532.70" y="745.50" width="2.6" height="1.5" fill="#000"/>
<rect x="542.30" y="745.50" width="2.6" height="1.5" fill="#000"/>
<rect x="551.90" y="745.50" width="2.6" height="1.5" fill="#000"/>
<rect x="561.50" y="745.50" width="2.6" height="1.5" fill="#000"/>
<rect x="571.10" y="745.50" width="2.6" height="1.5" fill="#000"/>
<rect x="580.70" y="745.50" width="2.6" height="1.5" fill="#000"/>
<rect x="590.30" y="745.50" width="2.6" height="1.5" fill="#000"/>
<rect x="599.90" y="745.50" width="2.6" height="1.5" fill="#000"/>
<rect x="609.50" y="745.50" width="2.6" height="1.5" fill="#000"/>
<rect x="619.10" y="745.50" width="2.6" height="1.5" fill="#000"/>
<rect x="628.70" y="745.50" width="2.6" height="1.5" fill="#000"/>
<rect x="638.30" y="745.50" width="2.6" height="1.5" fill="#000"/>
<rect x="647.90" y="745.50" width="2.6" height="1.5" fill="#000"/>
<rect x="657.50" y="745.50" width="2.6" height="1.5" fill="#000"/>
<rect x="667.10" y="745.50" width="2.6" height="1.5" fill="#000"/>
<line x1="582.00" y1="744.40" x2="582.00" y2="748.00" stroke="#000" stroke-width="2.00"/>
<line x1="630.00" y1="744.40" x2="630.00" y2="748.00" stroke="#000" stroke-width="2.00"/>
<line x1="678.80" y1="744.40" x2="678.80" y2="748.00" stroke="#000" stroke-width="2.00"/>
<line x1="531.20" y1="744.40" x2="679.80" y2="744.40" stroke="#000" stroke-width="2.30"/>
<text x="575.50" y="758.50" font-size="10.20" textLength="14.89" lengthAdjust="spacingAndGlyphs" stroke="#231f20">0.5</text>
<text x="623.40" y="758.50" font-size="10.20" textLength="14.89" lengthAdjust="spacingAndGlyphs" stroke="#231f20">1.0</text>
<text x="670.60" y="758.50" font-size="10.20" textLength="14.89" lengthAdjust="spacingAndGlyphs" stroke="#231f20">1.5</text>
<text x="592.40" y="780.00" font-size="12.00" font-weight="bold" textLength="52.10" lengthAdjust="spacingAndGlyphs" stroke="#231f20">Time (ms)</text>
<text x="573.80" y="705.10" font-size="12.00" font-weight="bold" textLength="34.90" lengthAdjust="spacingAndGlyphs" stroke="#231f20">Estrus</text>
<text transform="translate(499.50 748.00) rotate(-90)" font-size="10.60" font-weight="bold" text-anchor="middle" textLength="102.50" lengthAdjust="spacingAndGlyphs" stroke="#231f20">Waveform value (mV)</text>
<path d="M532.20,743.50 C535.37,743.82 546.98,744.55 551.20,745.40 C555.42,746.25 555.40,746.73 557.50,748.60 C559.60,750.47 562.05,753.68 563.80,756.60 C565.55,759.52 566.77,763.37 568.00,766.10 C569.23,768.83 570.67,771.85 571.20,773.00 C571.72,772.02 573.07,769.83 574.30,767.10 C575.53,764.37 577.02,759.93 578.60,756.60 C580.18,753.27 582.05,749.38 583.80,747.10 C585.55,744.82 587.17,744.13 589.10,742.90 C591.03,741.67 592.25,740.50 595.40,739.70 C598.55,738.90 603.43,738.10 608.00,738.10 C612.57,738.10 616.82,739.00 622.80,739.70 C628.78,740.40 636.88,741.67 643.90,742.30 C650.92,742.93 661.40,743.30 664.90,743.50" fill="none" stroke="#000" stroke-width="2.6" stroke-linejoin="round" stroke-linecap="butt"/>
<line x1="326.20" y1="830.60" x2="326.20" y2="911.70" stroke="#000" stroke-width="2.60"/>
<line x1="322.20" y1="831.40" x2="326.20" y2="831.40" stroke="#000" stroke-width="1.60"/>
<text x="323.30" y="834.60" font-size="10.90" text-anchor="end" textLength="21.00" lengthAdjust="spacingAndGlyphs" stroke="#231f20">0.08</text>
<line x1="322.20" y1="847.30" x2="326.20" y2="847.30" stroke="#000" stroke-width="1.60"/>
<text x="323.30" y="850.50" font-size="10.90" text-anchor="end" textLength="21.00" lengthAdjust="spacingAndGlyphs" stroke="#231f20">0.04</text>
<line x1="322.20" y1="863.20" x2="326.20" y2="863.20" stroke="#000" stroke-width="1.60"/>
<text x="323.30" y="866.40" font-size="10.90" text-anchor="end" textLength="21.00" lengthAdjust="spacingAndGlyphs" stroke="#231f20">0.00</text>
<line x1="322.20" y1="879.10" x2="326.20" y2="879.10" stroke="#000" stroke-width="1.60"/>
<text x="324.50" y="882.30" font-size="10.90" text-anchor="end" textLength="24.60" lengthAdjust="spacingAndGlyphs" stroke="#231f20">-0.04</text>
<line x1="322.20" y1="895.00" x2="326.20" y2="895.00" stroke="#000" stroke-width="1.60"/>
<text x="324.50" y="898.20" font-size="10.90" text-anchor="end" textLength="24.60" lengthAdjust="spacingAndGlyphs" stroke="#231f20">-0.08</text>
<line x1="322.20" y1="910.90" x2="326.20" y2="910.90" stroke="#000" stroke-width="1.60"/>
<text x="324.50" y="914.10" font-size="10.90" text-anchor="end" textLength="24.60" lengthAdjust="spacingAndGlyphs" stroke="#231f20">-0.12</text>
<rect x="328.70" y="864.30" width="2.6" height="1.5" fill="#000"/>
<rect x="338.30" y="864.30" width="2.6" height="1.5" fill="#000"/>
<rect x="347.90" y="864.30" width="2.6" height="1.5" fill="#000"/>
<rect x="357.50" y="864.30" width="2.6" height="1.5" fill="#000"/>
<rect x="367.10" y="864.30" width="2.6" height="1.5" fill="#000"/>
<rect x="376.70" y="864.30" width="2.6" height="1.5" fill="#000"/>
<rect x="386.30" y="864.30" width="2.6" height="1.5" fill="#000"/>
<rect x="395.90" y="864.30" width="2.6" height="1.5" fill="#000"/>
<rect x="405.50" y="864.30" width="2.6" height="1.5" fill="#000"/>
<rect x="415.10" y="864.30" width="2.6" height="1.5" fill="#000"/>
<rect x="424.70" y="864.30" width="2.6" height="1.5" fill="#000"/>
<rect x="434.30" y="864.30" width="2.6" height="1.5" fill="#000"/>
<rect x="443.90" y="864.30" width="2.6" height="1.5" fill="#000"/>
<rect x="453.50" y="864.30" width="2.6" height="1.5" fill="#000"/>
<rect x="463.10" y="864.30" width="2.6" height="1.5" fill="#000"/>
<line x1="378.00" y1="863.20" x2="378.00" y2="866.80" stroke="#000" stroke-width="2.00"/>
<line x1="426.00" y1="863.20" x2="426.00" y2="866.80" stroke="#000" stroke-width="2.00"/>
<line x1="473.50" y1="863.20" x2="473.50" y2="866.80" stroke="#000" stroke-width="2.00"/>
<line x1="326.20" y1="863.20" x2="474.50" y2="863.20" stroke="#000" stroke-width="2.30"/>
<text x="376.20" y="877.50" font-size="10.20" textLength="14.89" lengthAdjust="spacingAndGlyphs" stroke="#231f20">0.5</text>
<text x="422.80" y="877.50" font-size="10.20" textLength="14.89" lengthAdjust="spacingAndGlyphs" stroke="#231f20">1.0</text>
<text x="469.50" y="877.50" font-size="10.20" textLength="14.89" lengthAdjust="spacingAndGlyphs" stroke="#231f20">1.5</text>
<text x="380.60" y="898.20" font-size="12.00" font-weight="bold" textLength="53.10" lengthAdjust="spacingAndGlyphs" stroke="#231f20">Time (ms)</text>
<text x="367.30" y="826.50" font-size="12.00" font-weight="bold" textLength="52.60" lengthAdjust="spacingAndGlyphs" stroke="#231f20">Proestrus</text>
<text transform="translate(295.30 870.50) rotate(-90)" font-size="10.60" font-weight="bold" text-anchor="middle" textLength="102.50" lengthAdjust="spacingAndGlyphs" stroke="#231f20">Waveform value (mV)</text>
<path d="M327.20,861.90 C330.37,862.32 341.98,863.52 346.20,864.40 C350.42,865.28 350.40,865.33 352.50,867.20 C354.60,869.07 357.05,872.62 358.80,875.60 C360.55,878.58 361.77,882.37 363.00,885.10 C364.23,887.83 365.67,890.85 366.20,892.00 C366.72,891.02 368.07,888.83 369.30,886.10 C370.53,883.37 372.02,878.93 373.60,875.60 C375.18,872.27 377.05,868.48 378.80,866.10 C380.55,863.72 382.17,862.53 384.10,861.30 C386.03,860.07 386.88,859.40 390.40,858.70 C393.92,858.00 399.58,857.10 405.20,857.10 C410.82,857.10 418.13,858.18 424.10,858.70 C430.07,859.22 435.03,859.77 441.00,860.20 C446.97,860.63 456.75,861.12 459.90,861.30" fill="none" stroke="#000" stroke-width="2.6" stroke-linejoin="round" stroke-linecap="butt"/>
<line x1="530.20" y1="830.80" x2="530.20" y2="911.65" stroke="#000" stroke-width="2.60"/>
<line x1="526.20" y1="831.60" x2="530.20" y2="831.60" stroke="#000" stroke-width="1.60"/>
<text x="527.40" y="834.80" font-size="10.90" text-anchor="end" textLength="21.00" lengthAdjust="spacingAndGlyphs" stroke="#231f20">0.08</text>
<line x1="526.20" y1="847.45" x2="530.20" y2="847.45" stroke="#000" stroke-width="1.60"/>
<text x="527.40" y="850.65" font-size="10.90" text-anchor="end" textLength="21.00" lengthAdjust="spacingAndGlyphs" stroke="#231f20">0.04</text>
<line x1="526.20" y1="863.30" x2="530.20" y2="863.30" stroke="#000" stroke-width="1.60"/>
<text x="527.40" y="866.50" font-size="10.90" text-anchor="end" textLength="21.00" lengthAdjust="spacingAndGlyphs" stroke="#231f20">0.00</text>
<line x1="526.20" y1="879.15" x2="530.20" y2="879.15" stroke="#000" stroke-width="1.60"/>
<text x="528.60" y="882.35" font-size="10.90" text-anchor="end" textLength="24.60" lengthAdjust="spacingAndGlyphs" stroke="#231f20">-0.04</text>
<line x1="526.20" y1="895.00" x2="530.20" y2="895.00" stroke="#000" stroke-width="1.60"/>
<text x="528.60" y="898.20" font-size="10.90" text-anchor="end" textLength="24.60" lengthAdjust="spacingAndGlyphs" stroke="#231f20">-0.08</text>
<line x1="526.20" y1="910.85" x2="530.20" y2="910.85" stroke="#000" stroke-width="1.60"/>
<text x="528.60" y="914.05" font-size="10.90" text-anchor="end" textLength="24.60" lengthAdjust="spacingAndGlyphs" stroke="#231f20">-0.12</text>
<rect x="532.70" y="864.40" width="2.6" height="1.5" fill="#000"/>
<rect x="542.30" y="864.40" width="2.6" height="1.5" fill="#000"/>
<rect x="551.90" y="864.40" width="2.6" height="1.5" fill="#000"/>
<rect x="561.50" y="864.40" width="2.6" height="1.5" fill="#000"/>
<rect x="571.10" y="864.40" width="2.6" height="1.5" fill="#000"/>
<rect x="580.70" y="864.40" width="2.6" height="1.5" fill="#000"/>
<rect x="590.30" y="864.40" width="2.6" height="1.5" fill="#000"/>
<rect x="599.90" y="864.40" width="2.6" height="1.5" fill="#000"/>
<rect x="609.50" y="864.40" width="2.6" height="1.5" fill="#000"/>
<rect x="619.10" y="864.40" width="2.6" height="1.5" fill="#000"/>
<rect x="628.70" y="864.40" width="2.6" height="1.5" fill="#000"/>
<rect x="638.30" y="864.40" width="2.6" height="1.5" fill="#000"/>
<rect x="647.90" y="864.40" width="2.6" height="1.5" fill="#000"/>
<rect x="657.50" y="864.40" width="2.6" height="1.5" fill="#000"/>
<rect x="667.10" y="864.40" width="2.6" height="1.5" fill="#000"/>
<line x1="582.00" y1="863.30" x2="582.00" y2="866.90" stroke="#000" stroke-width="2.00"/>
<line x1="630.00" y1="863.30" x2="630.00" y2="866.90" stroke="#000" stroke-width="2.00"/>
<line x1="678.10" y1="863.30" x2="678.10" y2="866.90" stroke="#000" stroke-width="2.00"/>
<line x1="530.20" y1="863.30" x2="679.10" y2="863.30" stroke="#000" stroke-width="2.30"/>
<text x="575.50" y="878.20" font-size="10.20" textLength="14.89" lengthAdjust="spacingAndGlyphs" stroke="#231f20">0.5</text>
<text x="623.40" y="878.20" font-size="10.20" textLength="14.89" lengthAdjust="spacingAndGlyphs" stroke="#231f20">1.0</text>
<text x="670.60" y="878.20" font-size="10.20" textLength="14.89" lengthAdjust="spacingAndGlyphs" stroke="#231f20">1.5</text>
<text x="590.10" y="897.10" font-size="12.00" font-weight="bold" textLength="52.80" lengthAdjust="spacingAndGlyphs" stroke="#231f20">Time (ms)</text>
<text x="572.90" y="825.10" font-size="12.00" font-weight="bold" textLength="44.00" lengthAdjust="spacingAndGlyphs" stroke="#231f20">Diestrus</text>
<text transform="translate(500.30 869.30) rotate(-90)" font-size="10.60" font-weight="bold" text-anchor="middle" textLength="102.50" lengthAdjust="spacingAndGlyphs" stroke="#231f20">Waveform value (mV)</text>
<path d="M531.20,860.40 C531.90,860.55 533.65,860.70 535.40,861.30 C537.15,861.90 539.58,863.02 541.70,864.00 C543.82,864.98 545.98,865.80 548.10,867.20 C550.22,868.60 552.30,870.47 554.40,872.40 C556.50,874.33 558.77,876.52 560.70,878.80 C562.63,881.08 564.60,884.00 566.00,886.10 C567.40,888.20 568.58,890.52 569.10,891.40 C569.63,890.70 570.88,889.48 572.30,887.20 C573.72,884.92 575.67,880.68 577.60,877.70 C579.53,874.72 581.80,871.68 583.90,869.30 C586.00,866.92 588.10,864.88 590.20,863.40 C592.30,861.92 593.70,861.25 596.50,860.40 C599.30,859.55 603.48,858.85 607.00,858.30 C610.52,857.75 612.68,857.10 617.60,857.10 C622.52,857.10 628.78,857.75 636.50,858.30 C644.22,858.85 659.33,860.05 663.90,860.40" fill="none" stroke="#000" stroke-width="2.6" stroke-linejoin="round" stroke-linecap="butt"/>
</svg>
</body></html>
